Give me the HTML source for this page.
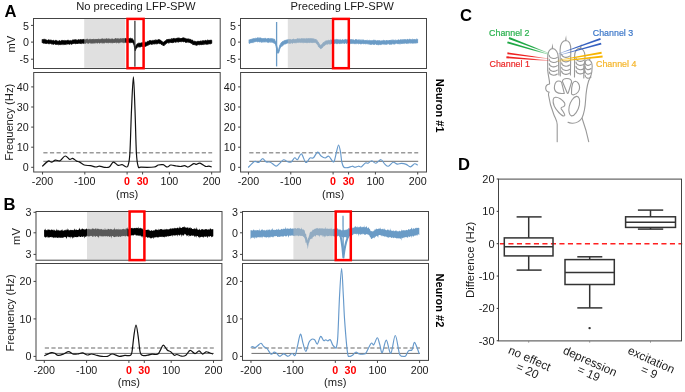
<!DOCTYPE html>
<html><head><meta charset="utf-8"><style>
html,body{margin:0;padding:0;background:#fff;overflow:hidden;width:685px;height:392px;}
svg{display:block;font-family:"Liberation Sans", sans-serif;will-change:transform;}
</style></head><body>
<svg width="685" height="392" viewBox="0 0 685 392">
<rect width="685" height="392" fill="#fff"/>
<text x="4.5" y="17" font-size="16.6" text-anchor="start" font-weight="bold" fill="#000">A</text>
<text x="135.9" y="10.2" font-size="11.2" text-anchor="middle" font-weight="normal" fill="#1a1a1a">No preceding LFP-SPW</text>
<text x="342.2" y="10.2" font-size="11.2" text-anchor="middle" font-weight="normal" fill="#1a1a1a">Preceding LFP-SPW</text>
<path d="M42.2,39.41 L42.7,39.75 L43.2,39.69 L43.7,39.3 L44.2,39.33 L44.7,39.4 L45.2,39.76 L45.7,39.54 L46.2,40.03 L46.7,40.03 L47.2,40.43 L47.7,40.37 L48.2,39.77 L48.7,39.96 L49.2,39.89 L49.7,40.35 L50.2,40.31 L50.7,39.91 L51.2,40.51 L51.7,40.21 L52.2,40.38 L52.7,40.72 L53.2,40.27 L53.7,40.56 L54.2,40.78 L54.7,41.05 L55.2,40.58 L55.7,40.38 L56.2,40.32 L56.7,41.01 L57.2,41.15 L57.7,41.02 L58.2,40.96 L58.7,41.23 L59.2,40.92 L59.7,40.53 L60.2,41.04 L60.7,41.18 L61.2,40.77 L61.7,40.42 L62.2,40.53 L62.7,40.42 L63.2,40.46 L63.7,40.68 L64.2,40.38 L64.7,40.79 L65.2,41.01 L65.7,40.51 L66.2,40.56 L66.7,41.08 L67.2,40.36 L67.7,40.39 L68.2,40.7 L68.7,40.15 L69.2,40.46 L69.7,40.97 L70.2,40.55 L70.7,40.66 L71.2,40.82 L71.7,40.77 L72.2,40.3 L72.7,40 L73.2,39.93 L73.7,40.02 L74.2,40.11 L74.7,39.76 L75.2,39.82 L75.7,39.72 L76.2,40.21 L76.7,39.85 L77.2,39.91 L77.7,40.31 L78.2,39.93 L78.7,39.56 L79.2,39.75 L79.7,40.15 L80.2,39.39 L80.7,39.81 L81.2,39.79 L81.7,39.74 L82.2,40.01 L82.7,39.43 L83.2,39.31 L83.7,39.6 L84.2,39.39 L84.7,39.82 L85.2,39.84 L85.7,39.8 L86.2,39.26 L86.7,39.37 L87.2,39.07 L87.7,39.26 L88.2,39.88 L88.7,39.86 L89.2,39.86 L89.7,39.19 L90.2,39.16 L90.7,39.54 L91.2,39.72 L91.7,39.54 L92.2,39.02 L92.7,39.76 L93.2,39.6 L93.7,39.08 L94.2,39.21 L94.7,39.77 L95.2,39.25 L95.7,39.53 L96.2,38.99 L96.7,39.68 L97.2,38.98 L97.7,39.73 L98.2,39.15 L98.7,38.94 L99.2,39.69 L99.7,39.28 L100.2,39.19 L100.7,39.53 L101.2,39 L101.7,38.98 L102.2,38.99 L102.7,38.87 L103.2,39.06 L103.7,39.26 L104.2,39.1 L104.7,39.16 L105.2,39.17 L105.7,39.09 L106.2,38.69 L106.7,38.83 L107.2,39.32 L107.7,38.95 L108.2,39.15 L108.7,38.73 L109.2,38.85 L109.7,39.31 L110.2,39.11 L110.7,39.42 L111.2,39.14 L111.7,39.04 L112.2,38.98 L112.7,38.99 L113.2,39.18 L113.7,39.39 L114.2,39.04 L114.7,39.28 L115.2,38.62 L115.7,38.57 L116.2,38.56 L116.7,39.19 L117.2,38.61 L117.7,39.06 L118.2,39.25 L118.7,38.64 L119.2,38.8 L119.7,39.32 L120.2,38.56 L120.7,38.87 L121.2,38.58 L121.7,39.04 L122.2,38.88 L122.7,38.39 L123.2,38.92 L123.7,38.41 L124.2,39.05 L124.7,38.43 L125.2,38.36 L125.7,38.56 L126.2,38.69 L126.7,39.04 L127.2,38.43 L127.7,38.81 L128.2,38.38 L128.7,38.92 L129.2,38.37 L129.7,38.87 L130.2,38.38 L130.7,38.36 L131.2,38.71 L131.7,38.8 L132.2,38.54 L132.7,39.36 L133.2,39.72 L133.7,40.4 L134.2,42.13 L134.7,45.16 L135.2,47.55 L135.7,46.34 L136.2,45.17 L136.7,44.75 L137.2,43.72 L137.7,43.86 L138.2,43.44 L138.7,43.15 L139.2,43.05 L139.7,43.32 L140.2,43.01 L140.7,43.34 L141.2,43.06 L141.7,42.75 L142.2,42.76 L142.7,42.93 L143.2,42.78 L143.7,43.48 L144.2,42.88 L144.7,42.7 L145.2,42.39 L145.7,42.29 L146.2,42.74 L146.7,41.9 L147.2,41.76 L147.7,41.3 L148.2,41.53 L148.7,41.1 L149.2,40.73 L149.7,40.62 L150.2,40.48 L150.7,40.64 L151.2,40.82 L151.7,40.9 L152.2,40.8 L152.7,40.43 L153.2,40.89 L153.7,40.59 L154.2,39.9 L154.7,40.59 L155.2,40.38 L155.7,39.77 L156.2,40.04 L156.7,40.29 L157.2,40.07 L157.7,40.13 L158.2,39.7 L158.7,39.58 L159.2,39.53 L159.7,39.92 L160.2,40.1 L160.7,40.33 L161.2,40.96 L161.7,41.04 L162.2,41.59 L162.7,42.16 L163.2,42.07 L163.7,42.36 L164.2,41.87 L164.7,41.14 L165.2,40.79 L165.7,40.75 L166.2,40.34 L166.7,39.59 L167.2,39.83 L167.7,39.56 L168.2,39.04 L168.7,39.52 L169.2,39.46 L169.7,39.25 L170.2,39.14 L170.7,39.46 L171.2,39.47 L171.7,38.54 L172.2,39.2 L172.7,38.8 L173.2,38.52 L173.7,38.46 L174.2,38.33 L174.7,39 L175.2,38.83 L175.7,38.86 L176.2,38.24 L176.7,38.44 L177.2,37.97 L177.7,38.34 L178.2,38.04 L178.7,38.16 L179.2,37.85 L179.7,38.58 L180.2,38.62 L180.7,38.57 L181.2,38.07 L181.7,38.6 L182.2,38 L182.7,37.89 L183.2,37.7 L183.7,37.91 L184.2,37.97 L184.7,38.3 L185.2,38.26 L185.7,38.81 L186.2,38.68 L186.7,39.05 L187.2,38.94 L187.7,39.04 L188.2,39.15 L188.7,38.82 L189.2,39.49 L189.7,39.17 L190.2,39.17 L190.7,40.03 L191.2,39.99 L191.7,40.15 L192.2,40.05 L192.7,40.34 L193.2,40.85 L193.7,41.47 L194.2,41.3 L194.7,41.32 L195.2,41.59 L195.7,41.45 L196.2,41.69 L196.7,41.8 L197.2,41.45 L197.7,41.37 L198.2,41.04 L198.7,41.8 L199.2,41.33 L199.7,41.61 L200.2,41.02 L200.7,41.06 L201.2,41.49 L201.7,41.35 L202.2,40.52 L202.7,41.23 L203.2,40.88 L203.7,40.63 L204.2,40.96 L204.7,41.02 L205.2,40.19 L205.7,40.54 L206.2,40.9 L206.7,40.61 L207.2,40.42 L207.7,40.02 L208.2,40.17 L208.7,40.52 L209.2,40.03 L209.7,40.47 L210.2,39.97 L210.7,40.32 L211.2,40.18 L211.7,40.35 L211.7,43.32 L211.2,43.53 L210.7,43.88 L210.2,43.44 L209.7,44.02 L209.2,43.64 L208.7,43.71 L208.2,44.29 L207.7,44.19 L207.2,44 L206.7,44.21 L206.2,44.2 L205.7,44.18 L205.2,43.73 L204.7,43.87 L204.2,44.48 L203.7,44.62 L203.2,43.85 L202.7,44.35 L202.2,44.63 L201.7,44.08 L201.2,44.9 L200.7,44.6 L200.2,44.5 L199.7,44.52 L199.2,44.95 L198.7,44.54 L198.2,44.73 L197.7,44.83 L197.2,45.05 L196.7,45 L196.2,45.48 L195.7,44.96 L195.2,44.86 L194.7,44.73 L194.2,44.53 L193.7,45.05 L193.2,44.1 L192.7,44.47 L192.2,43.55 L191.7,43.5 L191.2,43.17 L190.7,42.88 L190.2,43.07 L189.7,42.55 L189.2,42.27 L188.7,42.11 L188.2,42.55 L187.7,42.29 L187.2,41.84 L186.7,42.19 L186.2,42.43 L185.7,42.25 L185.2,42.29 L184.7,41.51 L184.2,41.48 L183.7,42 L183.2,41.86 L182.7,41.19 L182.2,41.56 L181.7,41.73 L181.2,41.58 L180.7,41.52 L180.2,41.93 L179.7,41.43 L179.2,42.03 L178.7,42.14 L178.2,41.72 L177.7,41.71 L177.2,41.91 L176.7,41.52 L176.2,42.34 L175.7,42.19 L175.2,42.05 L174.7,41.76 L174.2,42.18 L173.7,42.29 L173.2,42.68 L172.7,42.14 L172.2,42.83 L171.7,42.44 L171.2,42.94 L170.7,42.34 L170.2,42.33 L169.7,42.71 L169.2,42.62 L168.7,43.04 L168.2,42.73 L167.7,42.56 L167.2,42.93 L166.7,43.19 L166.2,43.33 L165.7,44.12 L165.2,44.48 L164.7,44.54 L164.2,45.58 L163.7,45.38 L163.2,45.74 L162.7,45.23 L162.2,44.56 L161.7,44.57 L161.2,44.41 L160.7,43.39 L160.2,43.65 L159.7,43.48 L159.2,43.69 L158.7,43.29 L158.2,43.02 L157.7,43.64 L157.2,43.84 L156.7,43.81 L156.2,43.84 L155.7,43.61 L155.2,43.95 L154.7,43.85 L154.2,44.11 L153.7,44.01 L153.2,43.64 L152.7,43.87 L152.2,44.44 L151.7,44.32 L151.2,44.27 L150.7,44.08 L150.2,43.96 L149.7,44.4 L149.2,44.47 L148.7,44.87 L148.2,45.06 L147.7,45.14 L147.2,45.31 L146.7,46.04 L146.2,45.86 L145.7,46.42 L145.2,46.15 L144.7,46.35 L144.2,46.34 L143.7,46.8 L143.2,46.96 L142.7,46.35 L142.2,46.87 L141.7,46.32 L141.2,46.51 L140.7,46.77 L140.2,46.95 L139.7,47.08 L139.2,46.66 L138.7,46.95 L138.2,46.59 L137.7,46.62 L137.2,47.48 L136.7,48.08 L136.2,48.46 L135.7,49.54 L135.2,50.76 L134.7,48.24 L134.2,45.62 L133.7,44.04 L133.2,43.27 L132.7,42.6 L132.2,41.92 L131.7,42.63 L131.2,42.11 L130.7,42.58 L130.2,42.57 L129.7,42.52 L129.2,42.64 L128.7,42.18 L128.2,41.85 L127.7,42.43 L127.2,42.63 L126.7,42.03 L126.2,42.63 L125.7,41.93 L125.2,42.53 L124.7,42.07 L124.2,42.72 L123.7,42.74 L123.2,42.32 L122.7,42.17 L122.2,42.28 L121.7,41.91 L121.2,42.19 L120.7,42.21 L120.2,42.31 L119.7,42.68 L119.2,42.38 L118.7,42.8 L118.2,42.83 L117.7,42.09 L117.2,42.62 L116.7,42.79 L116.2,42.6 L115.7,42.22 L115.2,42.41 L114.7,42.15 L114.2,42.88 L113.7,42.28 L113.2,42.84 L112.7,42.91 L112.2,42.55 L111.7,42.7 L111.2,42.54 L110.7,42.5 L110.2,42.79 L109.7,42.57 L109.2,42.38 L108.7,42.64 L108.2,42.85 L107.7,42.62 L107.2,42.66 L106.7,42.6 L106.2,42.9 L105.7,42.36 L105.2,42.22 L104.7,42.69 L104.2,43.05 L103.7,43.04 L103.2,42.65 L102.7,43.07 L102.2,42.64 L101.7,42.8 L101.2,42.54 L100.7,42.48 L100.2,43.08 L99.7,43.15 L99.2,42.9 L98.7,42.34 L98.2,42.83 L97.7,42.93 L97.2,43.1 L96.7,43.09 L96.2,42.51 L95.7,42.53 L95.2,43.24 L94.7,42.76 L94.2,43.13 L93.7,43.13 L93.2,42.86 L92.7,43.14 L92.2,43.04 L91.7,43.18 L91.2,42.9 L90.7,43.28 L90.2,42.67 L89.7,42.7 L89.2,42.83 L88.7,43.4 L88.2,42.92 L87.7,43.15 L87.2,42.79 L86.7,42.58 L86.2,43.02 L85.7,43.23 L85.2,43.3 L84.7,43.47 L84.2,42.8 L83.7,43.32 L83.2,43.35 L82.7,43.02 L82.2,43.36 L81.7,43.64 L81.2,42.82 L80.7,42.97 L80.2,43.73 L79.7,43.05 L79.2,43.18 L78.7,43.07 L78.2,43.45 L77.7,43.94 L77.2,43.2 L76.7,43.43 L76.2,43.29 L75.7,43.98 L75.2,43.56 L74.7,43.4 L74.2,43.35 L73.7,43.48 L73.2,43.43 L72.7,43.98 L72.2,43.8 L71.7,44.2 L71.2,44.22 L70.7,43.6 L70.2,44.14 L69.7,44.23 L69.2,44.14 L68.7,44.02 L68.2,43.9 L67.7,44.12 L67.2,43.91 L66.7,43.86 L66.2,44.53 L65.7,44.13 L65.2,44.55 L64.7,44.59 L64.2,44.22 L63.7,44.61 L63.2,44.07 L62.7,44.56 L62.2,43.99 L61.7,44.32 L61.2,44.52 L60.7,44.19 L60.2,44.85 L59.7,44.61 L59.2,44.59 L58.7,44.83 L58.2,44.35 L57.7,44.43 L57.2,44.14 L56.7,44.34 L56.2,44.38 L55.7,44.18 L55.2,44.39 L54.7,43.77 L54.2,43.89 L53.7,44.38 L53.2,44.07 L52.7,44.14 L52.2,43.74 L51.7,43.96 L51.2,43.78 L50.7,43.54 L50.2,43.37 L49.7,43.61 L49.2,43.75 L48.7,43.92 L48.2,43.25 L47.7,43.36 L47.2,43.1 L46.7,43.37 L46.2,43.82 L45.7,43.12 L45.2,43.62 L44.7,42.92 L44.2,43.18 L43.7,43.21 L43.2,43.03 L42.7,42.73 L42.2,42.75Z" fill="#000" stroke="#000" stroke-width="0.9" stroke-linejoin="round"/><line x1="134.9" y1="20.7" x2="134.9" y2="66.8" stroke="#3a3a3a" stroke-width="1.3"/><rect x="84.2" y="18.7" width="41.1" height="49.1" fill="rgb(189,189,189)" fill-opacity="0.47"/><rect x="33.5" y="18.5" width="186.7" height="50" fill="none" stroke="#444" stroke-width="1"/><line x1="31" y1="25.4" x2="33.5" y2="25.4" stroke="#444" stroke-width="1"/><text x="29" y="29.6" font-size="10.7" text-anchor="end" font-weight="normal" fill="#1a1a1a">5</text><line x1="31" y1="42.1" x2="33.5" y2="42.1" stroke="#444" stroke-width="1"/><text x="29" y="46.3" font-size="10.7" text-anchor="end" font-weight="normal" fill="#1a1a1a">0</text><line x1="31" y1="59.2" x2="33.5" y2="59.2" stroke="#444" stroke-width="1"/><text x="29" y="63.4" font-size="10.7" text-anchor="end" font-weight="normal" fill="#1a1a1a">-5</text><rect x="127.5" y="18.9" width="16.1" height="49.3" fill="none" stroke="#ff0000" stroke-width="2.5"/><line x1="43.34" y1="152.8" x2="212.16" y2="152.8" stroke="#9a9a9a" stroke-width="1.5" stroke-dasharray="4.2,2.4"/><line x1="43.34" y1="161.3" x2="212.16" y2="161.3" stroke="#6e6e6e" stroke-width="1"/><path d="M42.2,166.4 C43.2,165.52 46.63,161.8 48.2,161.1 C49.77,160.4 50.38,162.37 51.6,162.2 C52.82,162.03 54.1,160.33 55.5,160.1 C56.9,159.87 58.38,161.48 60,160.8 C61.62,160.12 63.58,156.23 65.2,156 C66.82,155.77 68.45,159.02 69.7,159.4 C70.95,159.78 71.55,158.02 72.7,158.3 C73.85,158.58 75.48,160.5 76.6,161.1 C77.72,161.7 78.13,161.25 79.4,161.9 C80.67,162.55 82.35,164.37 84.2,165 C86.05,165.63 88.53,165.37 90.5,165.7 C92.47,166.03 94.5,166.93 96,167 C97.5,167.07 98.12,166.05 99.5,166.1 C100.88,166.15 102.68,167.15 104.3,167.3 C105.92,167.45 107.68,167.85 109.2,167 C110.72,166.15 111.9,162.47 113.4,162.2 C114.9,161.93 116.75,164.98 118.2,165.4 C119.65,165.82 120.72,164.43 122.1,164.7 C123.48,164.97 125.48,166.95 126.5,167 C127.52,167.05 127.63,167.33 128.2,165 C128.77,162.67 129.35,162.17 129.9,153 C130.45,143.83 130.92,122.7 131.5,110 C132.08,97.3 132.82,76.8 133.4,76.8 C133.98,76.8 134.5,97.3 135,110 C135.5,122.7 135.87,143.58 136.4,153 C136.93,162.42 137.43,164.13 138.2,166.5 C138.97,168.87 138.35,167.12 141,167.2 C143.65,167.28 151.22,167.37 154.1,167 C156.98,166.63 156.8,165.38 158.3,165 C159.8,164.62 161.6,164.37 163.1,164.7 C164.6,165.03 166.02,166.95 167.3,167 C168.58,167.05 169.3,165.17 170.8,165 C172.3,164.83 174.68,165.75 176.3,166 C177.92,166.25 179.12,166.55 180.5,166.5 C181.88,166.45 183.33,165.62 184.6,165.7 C185.87,165.78 186.58,167.35 188.1,167 C189.62,166.65 192.32,164.03 193.7,163.6 C195.08,163.17 195.37,164.47 196.4,164.4 C197.43,164.33 198.4,162.87 199.9,163.2 C201.4,163.53 203.9,165.92 205.4,166.4 C206.9,166.88 207.85,166 208.9,166.1 C209.95,166.2 211.23,166.85 211.7,167" fill="none" stroke="#111" stroke-width="1.2" stroke-linejoin="round"/><rect x="33.7" y="72.5" width="186.5" height="99.5" fill="none" stroke="#444" stroke-width="1"/><line x1="31.2" y1="167.3" x2="33.7" y2="167.3" stroke="#444" stroke-width="1"/><text x="28.7" y="171" font-size="10.7" text-anchor="end" font-weight="normal" fill="#1a1a1a">0</text><line x1="31.2" y1="147.2" x2="33.7" y2="147.2" stroke="#444" stroke-width="1"/><text x="28.7" y="150.9" font-size="10.7" text-anchor="end" font-weight="normal" fill="#1a1a1a">10</text><line x1="31.2" y1="127.1" x2="33.7" y2="127.1" stroke="#444" stroke-width="1"/><text x="28.7" y="130.8" font-size="10.7" text-anchor="end" font-weight="normal" fill="#1a1a1a">20</text><line x1="31.2" y1="107" x2="33.7" y2="107" stroke="#444" stroke-width="1"/><text x="28.7" y="110.7" font-size="10.7" text-anchor="end" font-weight="normal" fill="#1a1a1a">30</text><line x1="31.2" y1="86.9" x2="33.7" y2="86.9" stroke="#444" stroke-width="1"/><text x="28.7" y="90.6" font-size="10.7" text-anchor="end" font-weight="normal" fill="#1a1a1a">40</text><line x1="42.54" y1="172" x2="42.54" y2="174.5" stroke="#444" stroke-width="1"/><text x="42.54" y="184.7" font-size="10.7" text-anchor="middle" font-weight="normal" fill="#1a1a1a">-200</text><line x1="84.82" y1="172" x2="84.82" y2="174.5" stroke="#444" stroke-width="1"/><text x="84.82" y="184.7" font-size="10.7" text-anchor="middle" font-weight="normal" fill="#1a1a1a">-100</text><line x1="127.1" y1="172" x2="127.1" y2="174.5" stroke="#444" stroke-width="1"/><text x="127.1" y="184.7" font-size="10.7" text-anchor="middle" font-weight="bold" fill="#ff0000">0</text><line x1="142.6" y1="172" x2="142.6" y2="174.5" stroke="#444" stroke-width="1"/><text x="142.6" y="184.7" font-size="10.7" text-anchor="middle" font-weight="bold" fill="#ff0000">30</text><line x1="169.38" y1="172" x2="169.38" y2="174.5" stroke="#444" stroke-width="1"/><text x="169.38" y="184.7" font-size="10.7" text-anchor="middle" font-weight="normal" fill="#1a1a1a">100</text><line x1="211.66" y1="172" x2="211.66" y2="174.5" stroke="#444" stroke-width="1"/><text x="211.66" y="184.7" font-size="10.7" text-anchor="middle" font-weight="normal" fill="#1a1a1a">200</text><text x="127.1" y="198" font-size="11.2" text-anchor="middle" font-weight="normal" fill="#1a1a1a">(ms)</text>
<path d="M249.1,39.65 L249.6,40.12 L250.1,39.93 L250.6,39.22 L251.1,39.75 L251.6,39.04 L252.1,39.09 L252.6,38.9 L253.1,39 L253.6,38.49 L254.1,38.46 L254.6,38.65 L255.1,38.63 L255.6,38.25 L256.1,38.55 L256.6,38.35 L257.1,37.84 L257.6,37.94 L258.1,38.15 L258.6,37.93 L259.1,38.36 L259.6,37.92 L260.1,38.01 L260.6,37.97 L261.1,37.93 L261.6,38.71 L262.1,38.59 L262.6,38.8 L263.1,38.16 L263.6,38.69 L264.1,38.65 L264.6,38.41 L265.1,38.26 L265.6,38.37 L266.1,38.99 L266.6,39.01 L267.1,38.48 L267.6,38.91 L268.1,38.23 L268.6,38.53 L269.1,38.38 L269.6,39.03 L270.1,38.61 L270.6,38.94 L271.1,38.29 L271.6,39.1 L272.1,38.96 L272.6,38.65 L273.1,39.4 L273.6,38.98 L274.1,39.22 L274.6,39.27 L275.1,40.94 L275.6,41.81 L276.1,42.71 L276.6,45.36 L277.1,47.12 L277.6,49.61 L278.1,50.5 L278.6,49.48 L279.1,48.12 L279.6,46.21 L280.1,44.45 L280.6,44.16 L281.1,42.94 L281.6,42.35 L282.1,41.8 L282.6,41.7 L283.1,41.84 L283.6,40.93 L284.1,40.45 L284.6,40.82 L285.1,40.21 L285.6,40.37 L286.1,40.3 L286.6,40.04 L287.1,40.05 L287.6,39.77 L288.1,39.9 L288.6,39.42 L289.1,39.31 L289.6,39.66 L290.1,39.47 L290.6,39.54 L291.1,39.78 L291.6,39.91 L292.1,39.41 L292.6,39.71 L293.1,38.96 L293.6,39 L294.1,39.74 L294.6,39.67 L295.1,39.58 L295.6,39 L296.1,39.59 L296.6,39.25 L297.1,38.87 L297.6,38.77 L298.1,38.85 L298.6,39.17 L299.1,38.57 L299.6,39.14 L300.1,38.78 L300.6,39.21 L301.1,38.55 L301.6,38.84 L302.1,39.06 L302.6,38.63 L303.1,38.85 L303.6,38.75 L304.1,38.75 L304.6,38.79 L305.1,39.24 L305.6,38.79 L306.1,39.11 L306.6,38.46 L307.1,38.83 L307.6,38.81 L308.1,38.86 L308.6,38.46 L309.1,39.02 L309.6,38.52 L310.1,38.77 L310.6,38.56 L311.1,38.89 L311.6,38.52 L312.1,39.14 L312.6,38.59 L313.1,39.26 L313.6,38.84 L314.1,39.24 L314.6,39.22 L315.1,39.3 L315.6,39.53 L316.1,39.45 L316.6,40.2 L317.1,40.42 L317.6,41.45 L318.1,41.87 L318.6,43.21 L319.1,43.4 L319.6,44.74 L320.1,45.12 L320.6,45.22 L321.1,45.14 L321.6,44.58 L322.1,44.17 L322.6,43.62 L323.1,42.67 L323.6,42.57 L324.1,42.47 L324.6,41.84 L325.1,41.51 L325.6,40.88 L326.1,40.69 L326.6,40.91 L327.1,40.86 L327.6,40.79 L328.1,40.45 L328.6,40.36 L329.1,40.69 L329.6,40.53 L330.1,40.34 L330.6,39.78 L331.1,39.98 L331.6,40.28 L332.1,40.11 L332.6,39.45 L333.1,40.07 L333.6,40.19 L334.1,40.12 L334.6,39.83 L335.1,39.56 L335.6,39.83 L336.1,39.4 L336.6,39.51 L337.1,39.97 L337.6,39.51 L338.1,39.46 L338.6,39.92 L339.1,40.13 L339.6,39.86 L340.1,39.43 L340.6,39.9 L341.1,40.05 L341.6,40.22 L342.1,39.65 L342.6,39.72 L343.1,39.98 L343.6,40.05 L344.1,39.88 L344.6,39.83 L345.1,39.58 L345.6,39.35 L346.1,39.88 L346.6,39.8 L347.1,39.47 L347.6,39.95 L348.1,39.38 L348.6,39.49 L349.1,39.6 L349.6,39.95 L350.1,39.99 L350.6,39.56 L351.1,39.67 L351.6,39.55 L352.1,40.26 L352.6,39.85 L353.1,39.51 L353.6,40.02 L354.1,40.11 L354.6,40.38 L355.1,39.78 L355.6,39.6 L356.1,39.94 L356.6,39.64 L357.1,39.61 L357.6,40.46 L358.1,39.81 L358.6,40.1 L359.1,40.38 L359.6,39.94 L360.1,39.72 L360.6,40.39 L361.1,39.71 L361.6,40.39 L362.1,40.4 L362.6,39.94 L363.1,39.96 L363.6,40.07 L364.1,40.4 L364.6,40.43 L365.1,40.3 L365.6,40.54 L366.1,40.09 L366.6,40.74 L367.1,40.69 L367.6,40.16 L368.1,40.61 L368.6,40.64 L369.1,40.78 L369.6,40.23 L370.1,40.61 L370.6,40.66 L371.1,40.51 L371.6,40.74 L372.1,40.52 L372.6,40.67 L373.1,40.37 L373.6,40.27 L374.1,40.35 L374.6,40.34 L375.1,40.58 L375.6,40.32 L376.1,40.94 L376.6,40.97 L377.1,40.42 L377.6,40.72 L378.1,41.15 L378.6,40.49 L379.1,41.28 L379.6,40.58 L380.1,40.6 L380.6,41.23 L381.1,41.02 L381.6,40.99 L382.1,40.49 L382.6,41.06 L383.1,40.64 L383.6,40.35 L384.1,40.56 L384.6,40.62 L385.1,41.13 L385.6,41 L386.1,40.24 L386.6,40.58 L387.1,40.48 L387.6,40.63 L388.1,40.9 L388.6,40.84 L389.1,40.08 L389.6,40.74 L390.1,40.03 L390.6,40.45 L391.1,40.15 L391.6,40.27 L392.1,40.17 L392.6,40.17 L393.1,40.52 L393.6,39.96 L394.1,39.91 L394.6,40.45 L395.1,40.36 L395.6,40.13 L396.1,40.55 L396.6,40.53 L397.1,39.89 L397.6,40.5 L398.1,40 L398.6,39.85 L399.1,40.1 L399.6,40.27 L400.1,39.89 L400.6,39.69 L401.1,40.13 L401.6,39.66 L402.1,40.18 L402.6,39.58 L403.1,40.24 L403.6,39.59 L404.1,40.03 L404.6,39.51 L405.1,39.58 L405.6,39.8 L406.1,39.6 L406.6,40.16 L407.1,39.36 L407.6,39.33 L408.1,40.11 L408.6,39.86 L409.1,39.35 L409.6,39.25 L410.1,39.48 L410.6,39.47 L411.1,39.71 L411.6,39.63 L412.1,39.17 L412.6,39.39 L413.1,39.82 L413.6,39.49 L414.1,39.33 L414.6,39.58 L415.1,39.61 L415.6,39.66 L416.1,39.44 L416.6,39.13 L417.1,38.91 L417.6,39.5 L417.6,42.94 L417.1,42.7 L416.6,42.91 L416.1,42.77 L415.6,43 L415.1,43.04 L414.6,43.22 L414.1,42.66 L413.6,43.15 L413.1,42.89 L412.6,43.19 L412.1,43.09 L411.6,42.98 L411.1,43.04 L410.6,43.32 L410.1,42.66 L409.6,42.84 L409.1,43.25 L408.6,43.09 L408.1,43.44 L407.6,43.09 L407.1,43.63 L406.6,43.44 L406.1,42.98 L405.6,42.98 L405.1,43.15 L404.6,43.02 L404.1,43.66 L403.6,43.19 L403.1,43.16 L402.6,43.38 L402.1,43.51 L401.6,43.4 L401.1,43.7 L400.6,43.81 L400.1,43.37 L399.6,43.68 L399.1,43.8 L398.6,43.56 L398.1,43.96 L397.6,43.64 L397.1,43.44 L396.6,43.25 L396.1,43.33 L395.6,43.63 L395.1,43.62 L394.6,44.03 L394.1,44.05 L393.6,43.94 L393.1,43.84 L392.6,43.61 L392.1,44.28 L391.6,44.21 L391.1,43.93 L390.6,44.22 L390.1,43.97 L389.6,44.43 L389.1,43.76 L388.6,43.75 L388.1,43.7 L387.6,43.84 L387.1,44.3 L386.6,44.39 L386.1,44.09 L385.6,44.3 L385.1,44.22 L384.6,44.07 L384.1,44.45 L383.6,44.06 L383.1,44.24 L382.6,44.06 L382.1,43.99 L381.6,44.18 L381.1,44.69 L380.6,44.7 L380.1,44.03 L379.6,44.17 L379.1,44.81 L378.6,44.72 L378.1,44.71 L377.6,44.62 L377.1,44.4 L376.6,44.5 L376.1,44.39 L375.6,43.83 L375.1,43.9 L374.6,44.58 L374.1,43.75 L373.6,44.52 L373.1,44.24 L372.6,43.93 L372.1,44.28 L371.6,44.38 L371.1,44.34 L370.6,44.44 L370.1,44.16 L369.6,44.33 L369.1,43.79 L368.6,43.76 L368.1,44.29 L367.6,43.63 L367.1,43.41 L366.6,43.57 L366.1,43.93 L365.6,43.8 L365.1,43.7 L364.6,43.53 L364.1,44.04 L363.6,43.94 L363.1,43.29 L362.6,43.33 L362.1,43.63 L361.6,43.63 L361.1,43.96 L360.6,43.83 L360.1,43.98 L359.6,43.44 L359.1,43.31 L358.6,43.72 L358.1,43.67 L357.6,43.24 L357.1,43.6 L356.6,43.79 L356.1,43.29 L355.6,43.54 L355.1,43.87 L354.6,43.7 L354.1,43.43 L353.6,43.33 L353.1,43.58 L352.6,43.23 L352.1,43.68 L351.6,43.54 L351.1,43.09 L350.6,43.78 L350.1,43.35 L349.6,43.1 L349.1,43.43 L348.6,43.21 L348.1,43.2 L347.6,42.89 L347.1,43.06 L346.6,43.65 L346.1,43.22 L345.6,42.95 L345.1,42.8 L344.6,43.4 L344.1,43.69 L343.6,43.04 L343.1,42.86 L342.6,42.98 L342.1,43.51 L341.6,43.35 L341.1,43.07 L340.6,43.19 L340.1,43.73 L339.6,43.64 L339.1,43.35 L338.6,43.17 L338.1,43.33 L337.6,43.56 L337.1,43.67 L336.6,43.71 L336.1,43.03 L335.6,43.16 L335.1,43.11 L334.6,43.71 L334.1,43.01 L333.6,43.14 L333.1,43.03 L332.6,43.21 L332.1,43.74 L331.6,43.11 L331.1,43.9 L330.6,43.99 L330.1,43.92 L329.6,44.16 L329.1,43.46 L328.6,43.75 L328.1,43.53 L327.6,44.33 L327.1,43.86 L326.6,43.98 L326.1,44.51 L325.6,44.66 L325.1,44.68 L324.6,45.09 L324.1,45.98 L323.6,45.84 L323.1,46.71 L322.6,47.11 L322.1,47.88 L321.6,48.22 L321.1,48.35 L320.6,48.67 L320.1,47.98 L319.6,47.6 L319.1,47.37 L318.6,46.87 L318.1,45.48 L317.6,44.83 L317.1,44.08 L316.6,43.12 L316.1,43.35 L315.6,42.52 L315.1,42.2 L314.6,42.46 L314.1,42.25 L313.6,41.96 L313.1,42.79 L312.6,42.03 L312.1,42.79 L311.6,42.36 L311.1,42.76 L310.6,42.18 L310.1,42.39 L309.6,42.5 L309.1,42.76 L308.6,42.44 L308.1,42.09 L307.6,42.74 L307.1,42.69 L306.6,42.77 L306.1,42.14 L305.6,42.14 L305.1,42.86 L304.6,42.34 L304.1,42.48 L303.6,42.83 L303.1,42.23 L302.6,42.61 L302.1,42.07 L301.6,42.48 L301.1,42.08 L300.6,42.49 L300.1,42.18 L299.6,42.19 L299.1,42.35 L298.6,42.27 L298.1,42.66 L297.6,42.33 L297.1,42.51 L296.6,42.77 L296.1,42.34 L295.6,42.97 L295.1,42.71 L294.6,42.67 L294.1,42.89 L293.6,42.56 L293.1,42.69 L292.6,43.28 L292.1,43.22 L291.6,42.61 L291.1,43.14 L290.6,42.79 L290.1,43.5 L289.6,42.93 L289.1,43.47 L288.6,42.92 L288.1,42.91 L287.6,43.1 L287.1,43.06 L286.6,43.06 L286.1,43.89 L285.6,43.92 L285.1,43.87 L284.6,44.08 L284.1,44.31 L283.6,44.26 L283.1,45.44 L282.6,45.79 L282.1,45.77 L281.6,45.69 L281.1,46.94 L280.6,47.03 L280.1,47.99 L279.6,49.46 L279.1,51.57 L278.6,52.92 L278.1,53.32 L277.6,53.16 L277.1,50.5 L276.6,48.86 L276.1,46.43 L275.6,44.48 L275.1,44.19 L274.6,43.45 L274.1,42.69 L273.6,42.88 L273.1,42.6 L272.6,42.09 L272.1,42.6 L271.6,42.01 L271.1,41.82 L270.6,41.79 L270.1,42.47 L269.6,41.75 L269.1,42.04 L268.6,42.52 L268.1,42.11 L267.6,42.06 L267.1,42.4 L266.6,41.83 L266.1,41.74 L265.6,41.93 L265.1,41.61 L264.6,41.88 L264.1,41.89 L263.6,41.55 L263.1,42.33 L262.6,41.76 L262.1,42.33 L261.6,42.2 L261.1,41.73 L260.6,41.39 L260.1,42.19 L259.6,41.64 L259.1,42.11 L258.6,41.6 L258.1,41.37 L257.6,42.03 L257.1,41.83 L256.6,41.32 L256.1,41.45 L255.6,41.48 L255.1,42.08 L254.6,41.72 L254.1,42.04 L253.6,41.81 L253.1,42.74 L252.6,42.26 L252.1,42.75 L251.6,42.29 L251.1,43.02 L250.6,42.73 L250.1,43.06 L249.6,43.33 L249.1,43.29Z" fill="#6a9bc6" stroke="#6a9bc6" stroke-width="0.9" stroke-linejoin="round"/><line x1="276.6" y1="22" x2="276.6" y2="66.4" stroke="#6a9bc6" stroke-width="1.3"/><rect x="287.8" y="18.7" width="43.5" height="49.1" fill="rgb(189,189,189)" fill-opacity="0.47"/><rect x="240.5" y="18.5" width="186" height="50" fill="none" stroke="#444" stroke-width="1"/><line x1="238" y1="25.4" x2="240.5" y2="25.4" stroke="#444" stroke-width="1"/><text x="236" y="29.6" font-size="10.7" text-anchor="end" font-weight="normal" fill="#1a1a1a">5</text><line x1="238" y1="42.1" x2="240.5" y2="42.1" stroke="#444" stroke-width="1"/><text x="236" y="46.3" font-size="10.7" text-anchor="end" font-weight="normal" fill="#1a1a1a">0</text><line x1="238" y1="59.2" x2="240.5" y2="59.2" stroke="#444" stroke-width="1"/><text x="236" y="63.4" font-size="10.7" text-anchor="end" font-weight="normal" fill="#1a1a1a">-5</text><rect x="333" y="18.9" width="15.8" height="49.3" fill="none" stroke="#ff0000" stroke-width="2.5"/><line x1="249.28" y1="152.8" x2="418.22" y2="152.8" stroke="#9a9a9a" stroke-width="1.5" stroke-dasharray="4.2,2.4"/><line x1="249.28" y1="161.3" x2="418.22" y2="161.3" stroke="#6e6e6e" stroke-width="1"/><path d="M248.2,167.5 C249.25,166.5 252.77,162.33 254.5,161.5 C256.23,160.67 257.27,162.97 258.6,162.5 C259.93,162.03 261.22,158.8 262.5,158.7 C263.78,158.6 264.98,161.32 266.3,161.9 C267.62,162.48 268.78,161.5 270.4,162.2 C272.02,162.9 274.5,165.87 276,166.1 C277.5,166.33 278.13,164.65 279.4,163.6 C280.67,162.55 282.2,160.1 283.6,159.8 C285,159.5 286.53,161.45 287.8,161.8 C289.07,162.15 290.05,162.57 291.2,161.9 C292.35,161.23 293.65,158.17 294.7,157.8 C295.75,157.43 296.38,160.35 297.5,159.7 C298.62,159.05 300.02,153.43 301.4,153.9 C302.78,154.37 304.37,161.82 305.8,162.5 C307.23,163.18 308.73,158.78 310,158 C311.27,157.22 312.13,158.78 313.4,157.8 C314.67,156.82 316.32,152.4 317.6,152.1 C318.88,151.8 319.83,155.02 321.1,156 C322.37,156.98 323.93,157.97 325.2,158 C326.47,158.03 327.43,155.62 328.7,156.2 C329.97,156.78 331.85,160.75 332.8,161.5 C333.75,162.25 333.78,162.28 334.4,160.7 C335.02,159.12 335.8,154.62 336.5,152 C337.2,149.38 337.93,145 338.6,145 C339.27,145 339.97,149.17 340.5,152 C341.03,154.83 341.23,159.47 341.8,162 C342.37,164.53 342.87,166.27 343.9,167.2 C344.93,168.13 346.62,167.77 348,167.6 C349.38,167.43 351.03,166.27 352.2,166.2 C353.37,166.13 353.97,167.2 355,167.2 C356.03,167.2 357.37,166.25 358.4,166.2 C359.43,166.15 360.03,167.43 361.2,166.9 C362.37,166.37 364.25,163.62 365.4,163 C366.55,162.38 367.07,163.58 368.1,163.2 C369.13,162.82 370.32,160.7 371.6,160.7 C372.88,160.7 374.23,163.37 375.8,163.2 C377.37,163.03 379.5,159.55 381,159.7 C382.5,159.85 383.58,163.02 384.8,164.1 C386.02,165.18 386.92,166.5 388.3,166.2 C389.68,165.9 391.6,162.65 393.1,162.3 C394.6,161.95 395.92,163.92 397.3,164.1 C398.68,164.28 399.9,163.35 401.4,163.4 C402.9,163.45 404.8,163.82 406.3,164.4 C407.8,164.98 409.02,167 410.4,166.9 C411.78,166.8 413.38,164.08 414.6,163.8 C415.82,163.52 417.18,164.97 417.7,165.2" fill="none" stroke="#6699cb" stroke-width="1.15" stroke-linejoin="round"/><rect x="240.6" y="72.5" width="185.9" height="99.5" fill="none" stroke="#444" stroke-width="1"/><line x1="238.1" y1="167.3" x2="240.6" y2="167.3" stroke="#444" stroke-width="1"/><text x="235.6" y="171" font-size="10.7" text-anchor="end" font-weight="normal" fill="#1a1a1a">0</text><line x1="238.1" y1="147.2" x2="240.6" y2="147.2" stroke="#444" stroke-width="1"/><text x="235.6" y="150.9" font-size="10.7" text-anchor="end" font-weight="normal" fill="#1a1a1a">10</text><line x1="238.1" y1="127.1" x2="240.6" y2="127.1" stroke="#444" stroke-width="1"/><text x="235.6" y="130.8" font-size="10.7" text-anchor="end" font-weight="normal" fill="#1a1a1a">20</text><line x1="238.1" y1="107" x2="240.6" y2="107" stroke="#444" stroke-width="1"/><text x="235.6" y="110.7" font-size="10.7" text-anchor="end" font-weight="normal" fill="#1a1a1a">30</text><line x1="238.1" y1="86.9" x2="240.6" y2="86.9" stroke="#444" stroke-width="1"/><text x="235.6" y="90.6" font-size="10.7" text-anchor="end" font-weight="normal" fill="#1a1a1a">40</text><line x1="248.48" y1="172" x2="248.48" y2="174.5" stroke="#444" stroke-width="1"/><text x="248.48" y="184.7" font-size="10.7" text-anchor="middle" font-weight="normal" fill="#1a1a1a">-200</text><line x1="290.79" y1="172" x2="290.79" y2="174.5" stroke="#444" stroke-width="1"/><text x="290.79" y="184.7" font-size="10.7" text-anchor="middle" font-weight="normal" fill="#1a1a1a">-100</text><line x1="333.1" y1="172" x2="333.1" y2="174.5" stroke="#444" stroke-width="1"/><text x="333.1" y="184.7" font-size="10.7" text-anchor="middle" font-weight="bold" fill="#ff0000">0</text><line x1="348.6" y1="172" x2="348.6" y2="174.5" stroke="#444" stroke-width="1"/><text x="348.6" y="184.7" font-size="10.7" text-anchor="middle" font-weight="bold" fill="#ff0000">30</text><line x1="375.41" y1="172" x2="375.41" y2="174.5" stroke="#444" stroke-width="1"/><text x="375.41" y="184.7" font-size="10.7" text-anchor="middle" font-weight="normal" fill="#1a1a1a">100</text><line x1="417.72" y1="172" x2="417.72" y2="174.5" stroke="#444" stroke-width="1"/><text x="417.72" y="184.7" font-size="10.7" text-anchor="middle" font-weight="normal" fill="#1a1a1a">200</text><text x="333.1" y="198" font-size="11.2" text-anchor="middle" font-weight="normal" fill="#1a1a1a">(ms)</text>
<text x="0" y="0" font-size="11" text-anchor="middle" font-weight="bold" fill="#000" transform="translate(436.3,105.6) rotate(90)">Neuron #1</text>
<text x="0" y="0" font-size="11.2" text-anchor="middle" font-weight="normal" fill="#1a1a1a" transform="translate(12.9,122.3) rotate(-90)">Frequency (Hz)</text>
<text x="0" y="0" font-size="11.2" text-anchor="middle" font-weight="normal" fill="#1a1a1a" transform="translate(14.9,44.1) rotate(-90)">mV</text>
<text x="3.4" y="210.1" font-size="16.6" text-anchor="start" font-weight="bold" fill="#000">B</text>
<path d="M44.1,229.88 L44.5,229.89 L44.9,229.29 L45.3,228.42 L45.7,230.16 L46.1,229.89 L46.5,230 L46.9,230.45 L47.3,230.21 L47.7,229.24 L48.1,229.76 L48.5,229.51 L48.9,229.52 L49.3,229.41 L49.7,229.9 L50.1,229.76 L50.5,229.94 L50.9,230.47 L51.3,229.84 L51.7,229.34 L52.1,229.77 L52.5,230.29 L52.9,229.47 L53.3,229.6 L53.7,230.76 L54.1,229.64 L54.5,229.67 L54.9,230.72 L55.3,230.74 L55.7,230.48 L56.1,230.76 L56.5,228.54 L56.9,230.25 L57.3,229.59 L57.7,230.53 L58.1,230.96 L58.5,229.67 L58.9,230.11 L59.3,230.93 L59.7,230.16 L60.1,230.43 L60.5,230.27 L60.9,230.82 L61.3,230.35 L61.7,230.08 L62.1,228.91 L62.5,230.35 L62.9,230.85 L63.3,230.82 L63.7,230.5 L64.1,230.44 L64.5,229.74 L64.9,230.39 L65.3,230.24 L65.7,229.88 L66.1,228.81 L66.5,230.2 L66.9,230.21 L67.3,229.94 L67.7,228.03 L68.1,230.67 L68.5,229.33 L68.9,229.55 L69.3,230.46 L69.7,230.24 L70.1,230.06 L70.5,230.35 L70.9,229.42 L71.3,229.98 L71.7,230.27 L72.1,229.72 L72.5,230.22 L72.9,230.08 L73.3,230.45 L73.7,229.66 L74.1,229.88 L74.5,229.03 L74.9,228.4 L75.3,230.2 L75.7,230.09 L76.1,229.05 L76.5,229.96 L76.9,229.84 L77.3,229.92 L77.7,229.97 L78.1,230.07 L78.5,229.62 L78.9,229.75 L79.3,227.48 L79.7,228.87 L80.1,229.54 L80.5,230.07 L80.9,229.02 L81.3,229.71 L81.7,228.66 L82.1,228.66 L82.5,228.49 L82.9,228.71 L83.3,229.41 L83.7,229.12 L84.1,228.78 L84.5,229.71 L84.9,229.42 L85.3,229.46 L85.7,229.2 L86.1,228.71 L86.5,228.66 L86.9,228.58 L87.3,229.61 L87.7,228.94 L88.1,229.2 L88.5,228.99 L88.9,228.41 L89.3,229.56 L89.7,228.73 L90.1,229.04 L90.5,229.73 L90.9,228.66 L91.3,228.66 L91.7,229.68 L92.1,228.47 L92.5,228.42 L92.9,228.41 L93.3,229.02 L93.7,228.61 L94.1,228.7 L94.5,229.12 L94.9,229.43 L95.3,228.54 L95.7,228.53 L96.1,227.8 L96.5,229.69 L96.9,228.99 L97.3,228.49 L97.7,228.66 L98.1,228.94 L98.5,228.59 L98.9,229.23 L99.3,228.83 L99.7,229.66 L100.1,228.8 L100.5,229.27 L100.9,229.55 L101.3,229.25 L101.7,228.75 L102.1,229.36 L102.5,229.88 L102.9,229.31 L103.3,229.06 L103.7,229.96 L104.1,229.78 L104.5,229.91 L104.9,227.97 L105.3,228.65 L105.7,229.94 L106.1,229.87 L106.5,229.59 L106.9,229.52 L107.3,229.98 L107.7,228.83 L108.1,229.04 L108.5,228.85 L108.9,229.08 L109.3,229.86 L109.7,228.98 L110.1,229.56 L110.5,229 L110.9,228.7 L111.3,229.45 L111.7,229.08 L112.1,229.27 L112.5,229.67 L112.9,229.67 L113.3,229.57 L113.7,229.34 L114.1,229.27 L114.5,227.13 L114.9,229.29 L115.3,229.68 L115.7,229.21 L116.1,229.11 L116.5,229.66 L116.9,228.8 L117.3,229.35 L117.7,229.71 L118.1,228.55 L118.5,229.21 L118.9,229.9 L119.3,229.04 L119.7,229.81 L120.1,229 L120.5,229.7 L120.9,229.33 L121.3,229.59 L121.7,229.6 L122.1,229.4 L122.5,229.01 L122.9,229.12 L123.3,229.25 L123.7,228.45 L124.1,229.35 L124.5,229.2 L124.9,229.14 L125.3,229.76 L125.7,228.57 L126.1,228.58 L126.5,227.81 L126.9,229.33 L127.3,228.45 L127.7,227.1 L128.1,229.63 L128.5,228.28 L128.9,229.42 L129.3,229.44 L129.7,228.58 L130.1,229.2 L130.5,228.15 L130.9,228.25 L131.3,227.64 L131.7,228.21 L132.1,227.99 L132.5,227.81 L132.9,228.7 L133.3,228.59 L133.7,227.93 L134.1,228.05 L134.5,228.27 L134.9,227.73 L135.3,228.47 L135.7,227.7 L136.1,228.18 L136.5,227.7 L136.9,227.67 L137.3,228 L137.7,227.83 L138.1,228.99 L138.5,226.45 L138.9,228.34 L139.3,228.26 L139.7,228.24 L140.1,228.3 L140.5,227.57 L140.9,228.43 L141.3,228.61 L141.7,228.32 L142.1,228.44 L142.5,228.61 L142.9,229.57 L143.3,229.63 L143.7,229.97 L144.1,229.75 L144.5,228.86 L144.9,230.15 L145.3,230.04 L145.7,229.88 L146.1,229.63 L146.5,230.11 L146.9,229.9 L147.3,229.67 L147.7,229.78 L148.1,229.62 L148.5,230.52 L148.9,229.1 L149.3,230.57 L149.7,230.31 L150.1,231.08 L150.5,231.04 L150.9,230.25 L151.3,230.52 L151.7,229.94 L152.1,230.74 L152.5,230.72 L152.9,230.67 L153.3,230.64 L153.7,229.97 L154.1,230.31 L154.5,230.72 L154.9,229.79 L155.3,229.58 L155.7,229.38 L156.1,229.3 L156.5,229.86 L156.9,229.83 L157.3,230.37 L157.7,229.81 L158.1,229.28 L158.5,230.41 L158.9,228.46 L159.3,229.5 L159.7,229.96 L160.1,229.07 L160.5,229.12 L160.9,229.56 L161.3,229.11 L161.7,229.08 L162.1,229.64 L162.5,229.18 L162.9,229.66 L163.3,230.02 L163.7,228.95 L164.1,229.92 L164.5,229.52 L164.9,228.79 L165.3,228.96 L165.7,229.86 L166.1,229.85 L166.5,229 L166.9,228.64 L167.3,229.43 L167.7,229.14 L168.1,229.27 L168.5,229.45 L168.9,229.35 L169.3,229.15 L169.7,228.89 L170.1,228.11 L170.5,228.49 L170.9,228.94 L171.3,229.13 L171.7,228 L172.1,228.67 L172.5,228.45 L172.9,227.76 L173.3,229.08 L173.7,228.04 L174.1,228.4 L174.5,227.61 L174.9,228.6 L175.3,227.86 L175.7,228.38 L176.1,228.1 L176.5,227.92 L176.9,228.69 L177.3,227.6 L177.7,227.86 L178.1,227.43 L178.5,228.17 L178.9,228.4 L179.3,227.88 L179.7,226.4 L180.1,226.63 L180.5,227.94 L180.9,227.75 L181.3,227.9 L181.7,228.06 L182.1,227.54 L182.5,227.05 L182.9,227.28 L183.3,226.73 L183.7,227.47 L184.1,225.96 L184.5,227.01 L184.9,227.58 L185.3,227.3 L185.7,227.46 L186.1,227.68 L186.5,227.83 L186.9,227.55 L187.3,227.8 L187.7,227.27 L188.1,227.1 L188.5,228.4 L188.9,228.18 L189.3,227.56 L189.7,227.77 L190.1,228.61 L190.5,226.63 L190.9,228.77 L191.3,227.9 L191.7,227.9 L192.1,229.08 L192.5,228.96 L192.9,228.97 L193.3,229.13 L193.7,228.58 L194.1,229.25 L194.5,228.34 L194.9,228.18 L195.3,228.43 L195.7,229.24 L196.1,229.35 L196.5,228.27 L196.9,227.1 L197.3,229.78 L197.7,229.22 L198.1,229.72 L198.5,229.44 L198.9,230.17 L199.3,228.57 L199.7,229.52 L200.1,229.91 L200.5,230.35 L200.9,229.4 L201.3,229.47 L201.7,228.92 L202.1,229.75 L202.5,229.03 L202.9,228.92 L203.3,229.6 L203.7,230 L204.1,229.12 L204.5,229.76 L204.9,229.69 L205.3,229.04 L205.7,229.37 L206.1,228.99 L206.5,229.4 L206.9,228.88 L207.3,229.78 L207.7,229.77 L208.1,228.93 L208.5,229.29 L208.9,229.93 L209.3,229.64 L209.7,229.01 L210.1,228.15 L210.5,228.54 L210.9,228.89 L211.3,229.3 L211.7,229.5 L212.1,228.89 L212.5,229.26 L212.9,229.14 L213.3,229.31 L213.3,236.03 L212.9,236.83 L212.5,236.69 L212.1,236.57 L211.7,237.62 L211.3,236.82 L210.9,235.97 L210.5,235.91 L210.1,236.21 L209.7,236.43 L209.3,236.78 L208.9,236.71 L208.5,236.39 L208.1,235.92 L207.7,236.95 L207.3,238.15 L206.9,236.99 L206.5,236.6 L206.1,236.08 L205.7,236.91 L205.3,236.78 L204.9,236.4 L204.5,236.52 L204.1,236.87 L203.7,236.72 L203.3,238.09 L202.9,237.02 L202.5,237.25 L202.1,236.62 L201.7,236.96 L201.3,236.71 L200.9,236.74 L200.5,237.4 L200.1,236.96 L199.7,238.46 L199.3,236.45 L198.9,237.25 L198.5,237.24 L198.1,236.58 L197.7,236.07 L197.3,235.92 L196.9,235.83 L196.5,236.58 L196.1,237.64 L195.7,235.61 L195.3,236.45 L194.9,237.37 L194.5,236.49 L194.1,235.72 L193.7,235.96 L193.3,235.31 L192.9,235.41 L192.5,236.17 L192.1,235.19 L191.7,235.88 L191.3,235.12 L190.9,236.01 L190.5,235.83 L190.1,236.17 L189.7,235.6 L189.3,235.79 L188.9,237.31 L188.5,234.8 L188.1,234.92 L187.7,235.91 L187.3,235.17 L186.9,236.55 L186.5,235.32 L186.1,234.95 L185.7,234.28 L185.3,234.57 L184.9,233.84 L184.5,233.88 L184.1,235.17 L183.7,236.08 L183.3,234.75 L182.9,235.98 L182.5,234.41 L182.1,235.22 L181.7,234.51 L181.3,237.13 L180.9,235.32 L180.5,234.46 L180.1,234.55 L179.7,235.45 L179.3,235.65 L178.9,235.13 L178.5,235.12 L178.1,234.48 L177.7,235.05 L177.3,236.77 L176.9,235.18 L176.5,234.63 L176.1,235.48 L175.7,235.06 L175.3,235.78 L174.9,235.6 L174.5,235.54 L174.1,235.55 L173.7,235.24 L173.3,234.97 L172.9,236.95 L172.5,235.81 L172.1,235.11 L171.7,235.56 L171.3,235.69 L170.9,235.74 L170.5,236.36 L170.1,235.77 L169.7,236.3 L169.3,235.92 L168.9,235.69 L168.5,236.96 L168.1,235.88 L167.7,236.7 L167.3,235.68 L166.9,236.19 L166.5,236.79 L166.1,236.99 L165.7,236.69 L165.3,236.28 L164.9,237.63 L164.5,237.02 L164.1,236.51 L163.7,237.37 L163.3,236.78 L162.9,237.31 L162.5,236.87 L162.1,236.45 L161.7,237.33 L161.3,236.4 L160.9,236.92 L160.5,237.12 L160.1,236.49 L159.7,236.67 L159.3,237.08 L158.9,237.44 L158.5,237.54 L158.1,236.81 L157.7,237.18 L157.3,237.68 L156.9,236.91 L156.5,236.86 L156.1,237.67 L155.7,237.14 L155.3,237.17 L154.9,237.39 L154.5,237.29 L154.1,237.77 L153.7,239.17 L153.3,237.13 L152.9,237.75 L152.5,238.03 L152.1,237.17 L151.7,238.79 L151.3,237.69 L150.9,238.99 L150.5,237.66 L150.1,237.94 L149.7,237.87 L149.3,237.41 L148.9,237.01 L148.5,237.81 L148.1,237.52 L147.7,237.66 L147.3,237.69 L146.9,237.01 L146.5,237.26 L146.1,236.53 L145.7,237.98 L145.3,236.48 L144.9,237.78 L144.5,236.96 L144.1,237.08 L143.7,236.44 L143.3,236.94 L142.9,235.84 L142.5,236.76 L142.1,237.65 L141.7,236.68 L141.3,236.06 L140.9,236.56 L140.5,235.85 L140.1,235.31 L139.7,235.34 L139.3,236.3 L138.9,235.63 L138.5,235.37 L138.1,236 L137.7,235.85 L137.3,234.88 L136.9,235.5 L136.5,235.84 L136.1,235.02 L135.7,235.6 L135.3,234.62 L134.9,234.76 L134.5,234.84 L134.1,234.86 L133.7,235.95 L133.3,234.89 L132.9,234.91 L132.5,235.78 L132.1,234.9 L131.7,235.26 L131.3,235.55 L130.9,235.83 L130.5,235.61 L130.1,235.85 L129.7,236.24 L129.3,235.99 L128.9,236.5 L128.5,236.72 L128.1,236.1 L127.7,236.05 L127.3,236.78 L126.9,236.02 L126.5,235.62 L126.1,236.27 L125.7,236.61 L125.3,236.36 L124.9,235.94 L124.5,236.51 L124.1,235.59 L123.7,236.17 L123.3,236.1 L122.9,235.88 L122.5,235.84 L122.1,236.78 L121.7,236.36 L121.3,235.89 L120.9,237.05 L120.5,237.02 L120.1,236.24 L119.7,236.63 L119.3,236.19 L118.9,236.43 L118.5,237 L118.1,236.99 L117.7,236.9 L117.3,235.86 L116.9,236.17 L116.5,236.94 L116.1,236.54 L115.7,236.41 L115.3,237 L114.9,237.14 L114.5,237.02 L114.1,236.91 L113.7,236.85 L113.3,236.69 L112.9,236.05 L112.5,236 L112.1,235.94 L111.7,238.75 L111.3,236.56 L110.9,236.37 L110.5,236.61 L110.1,236.55 L109.7,236.89 L109.3,236.74 L108.9,236.22 L108.5,236.06 L108.1,236.52 L107.7,236.69 L107.3,236.26 L106.9,236.2 L106.5,236.22 L106.1,235.88 L105.7,236.71 L105.3,236.01 L104.9,236.55 L104.5,236.15 L104.1,235.87 L103.7,236.92 L103.3,236.12 L102.9,236.33 L102.5,236.31 L102.1,236.81 L101.7,236.58 L101.3,236.14 L100.9,235.8 L100.5,236.72 L100.1,235.75 L99.7,235.76 L99.3,235.97 L98.9,238.4 L98.5,236.92 L98.1,236.69 L97.7,236.69 L97.3,236.41 L96.9,235.9 L96.5,236.04 L96.1,236.35 L95.7,236.79 L95.3,236.67 L94.9,236.77 L94.5,236.01 L94.1,235.73 L93.7,235.87 L93.3,236.89 L92.9,236.77 L92.5,236.73 L92.1,236.61 L91.7,235.72 L91.3,236.08 L90.9,236.24 L90.5,235.64 L90.1,236 L89.7,236.72 L89.3,235.91 L88.9,236.53 L88.5,236.41 L88.1,236.15 L87.7,235.65 L87.3,236.72 L86.9,235.56 L86.5,237.31 L86.1,235.73 L85.7,236.64 L85.3,236.91 L84.9,237.25 L84.5,238.59 L84.1,235.72 L83.7,235.92 L83.3,237.05 L82.9,237.08 L82.5,237.04 L82.1,236.57 L81.7,236.09 L81.3,236.98 L80.9,236.95 L80.5,237.09 L80.1,236.94 L79.7,236.81 L79.3,236.16 L78.9,236.48 L78.5,236.26 L78.1,237.26 L77.7,237.12 L77.3,237.17 L76.9,236.74 L76.5,237.42 L76.1,236.91 L75.7,237.12 L75.3,236.98 L74.9,237.45 L74.5,236.59 L74.1,237.5 L73.7,237.5 L73.3,237.44 L72.9,237.46 L72.5,239.07 L72.1,236.88 L71.7,236.86 L71.3,236.99 L70.9,238.65 L70.5,236.52 L70.1,237.43 L69.7,237.09 L69.3,237.49 L68.9,236.55 L68.5,237.51 L68.1,236.65 L67.7,236.56 L67.3,236.7 L66.9,237.89 L66.5,238.96 L66.1,237.41 L65.7,237.24 L65.3,237.01 L64.9,237.19 L64.5,236.74 L64.1,237.35 L63.7,237.56 L63.3,237.6 L62.9,237.62 L62.5,237.64 L62.1,237.9 L61.7,237.26 L61.3,238.2 L60.9,237.42 L60.5,237.65 L60.1,237.97 L59.7,238.09 L59.3,236.92 L58.9,238.23 L58.5,237.69 L58.1,236.92 L57.7,237.98 L57.3,237.96 L56.9,237.46 L56.5,237.44 L56.1,237.51 L55.7,237.45 L55.3,237.8 L54.9,237.53 L54.5,237.92 L54.1,236.97 L53.7,237.54 L53.3,238.29 L52.9,237.75 L52.5,237.08 L52.1,237.22 L51.7,237.55 L51.3,236.87 L50.9,237 L50.5,236.89 L50.1,237.36 L49.7,237.23 L49.3,237.52 L48.9,237.53 L48.5,237.43 L48.1,237.35 L47.7,237.87 L47.3,236.51 L46.9,236.62 L46.5,237.47 L46.1,237.05 L45.7,237.59 L45.3,237.62 L44.9,237.15 L44.5,236.79 L44.1,236.55Z" fill="#000"/><rect x="87" y="211.9" width="40.6" height="47.4" fill="rgb(189,189,189)" fill-opacity="0.47"/><rect x="36" y="211.5" width="186" height="48.7" fill="none" stroke="#444" stroke-width="1"/><line x1="33.5" y1="212.3" x2="36" y2="212.3" stroke="#444" stroke-width="1"/><text x="31.5" y="216" font-size="10.7" text-anchor="end" font-weight="normal" fill="#1a1a1a">3</text><line x1="33.5" y1="232.8" x2="36" y2="232.8" stroke="#444" stroke-width="1"/><text x="31.5" y="236.5" font-size="10.7" text-anchor="end" font-weight="normal" fill="#1a1a1a">0</text><line x1="33.5" y1="254.4" x2="36" y2="254.4" stroke="#444" stroke-width="1"/><text x="31.5" y="258.1" font-size="10.7" text-anchor="end" font-weight="normal" fill="#1a1a1a">3</text><rect x="129.6" y="211.5" width="14.8" height="48.6" fill="none" stroke="#ff0000" stroke-width="2.5"/><line x1="44.8" y1="348" x2="213.8" y2="348" stroke="#9a9a9a" stroke-width="1.5" stroke-dasharray="4.2,2.4"/><line x1="44.8" y1="353.4" x2="213.8" y2="353.4" stroke="#6e6e6e" stroke-width="1"/><path d="M44.3,355.8 C45.47,355.27 49.57,353.02 51.3,352.6 C53.03,352.18 53.55,352.83 54.7,353.3 C55.85,353.77 56.7,355.28 58.2,355.4 C59.7,355.52 61.97,354.63 63.7,354 C65.43,353.37 67.08,351.6 68.6,351.6 C70.12,351.6 71.3,353.6 72.8,354 C74.3,354.4 75.98,354.18 77.6,354 C79.22,353.82 80.88,352.73 82.5,352.9 C84.12,353.07 85.8,354.82 87.3,355 C88.8,355.18 90.12,354 91.5,354 C92.88,354 93.87,354.62 95.6,355 C97.33,355.38 99.93,356.08 101.9,356.3 C103.87,356.52 105.67,356.68 107.4,356.3 C109.13,355.92 110.33,354 112.3,354 C114.27,354 117.12,356.07 119.2,356.3 C121.28,356.53 123.03,355.53 124.8,355.4 C126.57,355.27 128.62,356 129.8,355.5 C130.98,355 131.22,355.68 131.9,352.4 C132.58,349.12 133.22,340.37 133.9,335.8 C134.58,331.23 135.3,325 136,325 C136.7,325 137.4,331.23 138.1,335.8 C138.8,340.37 139.38,349.12 140.2,352.4 C141.02,355.68 141.73,355.03 143,355.5 C144.27,355.97 146.3,355.43 147.8,355.2 C149.3,354.97 150.62,354.22 152,354.1 C153.38,353.98 155.07,354.55 156.1,354.5 C157.13,354.45 157.5,354.48 158.2,353.8 C158.9,353.12 159.45,351.83 160.3,350.4 C161.15,348.97 162.15,345.27 163.3,345.2 C164.45,345.13 165.97,348.9 167.2,350 C168.43,351.1 169.53,350.93 170.7,351.8 C171.87,352.67 173.17,354.75 174.2,355.2 C175.23,355.65 175.63,354.33 176.9,354.5 C178.17,354.67 180.3,356.08 181.8,356.2 C183.3,356.32 184.52,356.17 185.9,355.2 C187.28,354.23 188.58,350.67 190.1,350.4 C191.62,350.13 193.5,353.53 195,353.6 C196.5,353.67 197.83,350.72 199.1,350.8 C200.37,350.88 201.45,353.93 202.6,354.1 C203.75,354.27 204.85,352.03 206,351.8 C207.15,351.57 208.33,352.32 209.5,352.7 C210.67,353.08 212.42,353.87 213,354.1" fill="none" stroke="#111" stroke-width="1.2" stroke-linejoin="round"/><rect x="36" y="263.5" width="185.9" height="96.9" fill="none" stroke="#444" stroke-width="1"/><line x1="33.5" y1="356.4" x2="36" y2="356.4" stroke="#444" stroke-width="1"/><text x="31.5" y="360.1" font-size="10.7" text-anchor="end" font-weight="normal" fill="#1a1a1a">0</text><line x1="33.5" y1="318.9" x2="36" y2="318.9" stroke="#444" stroke-width="1"/><text x="31.5" y="322.6" font-size="10.7" text-anchor="end" font-weight="normal" fill="#1a1a1a">10</text><line x1="33.5" y1="281.4" x2="36" y2="281.4" stroke="#444" stroke-width="1"/><text x="31.5" y="285.1" font-size="10.7" text-anchor="end" font-weight="normal" fill="#1a1a1a">20</text><line x1="44.3" y1="360.4" x2="44.3" y2="362.9" stroke="#444" stroke-width="1"/><text x="44.3" y="374" font-size="10.7" text-anchor="middle" font-weight="normal" fill="#1a1a1a">-200</text><line x1="86.6" y1="360.4" x2="86.6" y2="362.9" stroke="#444" stroke-width="1"/><text x="86.6" y="374" font-size="10.7" text-anchor="middle" font-weight="normal" fill="#1a1a1a">-100</text><line x1="128.9" y1="360.4" x2="128.9" y2="362.9" stroke="#444" stroke-width="1"/><text x="128.9" y="374" font-size="10.7" text-anchor="middle" font-weight="bold" fill="#ff0000">0</text><line x1="144.3" y1="360.4" x2="144.3" y2="362.9" stroke="#444" stroke-width="1"/><text x="144.3" y="374" font-size="10.7" text-anchor="middle" font-weight="bold" fill="#ff0000">30</text><line x1="171.2" y1="360.4" x2="171.2" y2="362.9" stroke="#444" stroke-width="1"/><text x="171.2" y="374" font-size="10.7" text-anchor="middle" font-weight="normal" fill="#1a1a1a">100</text><line x1="213.5" y1="360.4" x2="213.5" y2="362.9" stroke="#444" stroke-width="1"/><text x="213.5" y="374" font-size="10.7" text-anchor="middle" font-weight="normal" fill="#1a1a1a">200</text><text x="128.9" y="385.9" font-size="11.2" text-anchor="middle" font-weight="normal" fill="#1a1a1a">(ms)</text>
<path d="M250.5,229.8 L250.9,230.38 L251.3,230.33 L251.7,230.33 L252.1,230.38 L252.5,230.21 L252.9,230.72 L253.3,229.74 L253.7,229.15 L254.1,230.28 L254.5,230.41 L254.9,229.79 L255.3,229.96 L255.7,230.77 L256.1,229.63 L256.5,230.75 L256.9,230.06 L257.3,230.04 L257.7,230.29 L258.1,230.08 L258.5,230.61 L258.9,230.31 L259.3,230.7 L259.7,228.14 L260.1,230.75 L260.5,230.39 L260.9,230.61 L261.3,229.56 L261.7,229.99 L262.1,228.82 L262.5,229.8 L262.9,230.17 L263.3,230.55 L263.7,229.91 L264.1,229.66 L264.5,230.36 L264.9,230.49 L265.3,230.64 L265.7,230.36 L266.1,229.98 L266.5,229.41 L266.9,230.46 L267.3,230.62 L267.7,229.33 L268.1,230.29 L268.5,229.34 L268.9,230.33 L269.3,229.35 L269.7,229.7 L270.1,229.43 L270.5,230.39 L270.9,230.36 L271.3,229.27 L271.7,229.78 L272.1,229.33 L272.5,227.8 L272.9,230.09 L273.3,230 L273.7,229.65 L274.1,229.7 L274.5,229.86 L274.9,230.21 L275.3,229.94 L275.7,230.06 L276.1,229.31 L276.5,229.66 L276.9,228.96 L277.3,230.05 L277.7,229.71 L278.1,228.87 L278.5,228.69 L278.9,229.88 L279.3,229.66 L279.7,229.64 L280.1,229.6 L280.5,229.76 L280.9,229.74 L281.3,228.68 L281.7,229.01 L282.1,228.84 L282.5,229.58 L282.9,229.15 L283.3,228.14 L283.7,229.31 L284.1,228.61 L284.5,228.98 L284.9,229.06 L285.3,226.49 L285.7,228.4 L286.1,229.24 L286.5,228.66 L286.9,228.2 L287.3,227.9 L287.7,229.01 L288.1,228.62 L288.5,229.11 L288.9,228.4 L289.3,228.64 L289.7,228.99 L290.1,227.78 L290.5,228.33 L290.9,228.75 L291.3,229.03 L291.7,228.51 L292.1,228.6 L292.5,228.46 L292.9,228.83 L293.3,228.69 L293.7,228.51 L294.1,227.9 L294.5,228.73 L294.9,228.24 L295.3,228.13 L295.7,228.31 L296.1,228.24 L296.5,228.97 L296.9,228.79 L297.3,228.36 L297.7,228.09 L298.1,228.1 L298.5,227.76 L298.9,229.02 L299.3,228.76 L299.7,227.86 L300.1,228.61 L300.5,229.14 L300.9,229.05 L301.3,228.77 L301.7,227.19 L302.1,229.42 L302.5,229.13 L302.9,229.6 L303.3,229.23 L303.7,229.77 L304.1,229.97 L304.5,230.21 L304.9,231.55 L305.3,233.75 L305.7,233.63 L306.1,233.69 L306.5,236.92 L306.9,237.24 L307.3,238.86 L307.7,240.38 L308.1,237.94 L308.5,237.61 L308.9,236.11 L309.3,235.11 L309.7,232.78 L310.1,232.58 L310.5,231.57 L310.9,232.01 L311.3,231.65 L311.7,231.32 L312.1,231.31 L312.5,229.72 L312.9,229.75 L313.3,229.69 L313.7,230 L314.1,228.57 L314.5,229.49 L314.9,228.93 L315.3,228.42 L315.7,228.71 L316.1,228.74 L316.5,227.91 L316.9,228.26 L317.3,228.39 L317.7,227.84 L318.1,228.43 L318.5,229.02 L318.9,227.94 L319.3,228.66 L319.7,227.85 L320.1,228.78 L320.5,228.45 L320.9,227.88 L321.3,228.35 L321.7,228.84 L322.1,228.08 L322.5,228.13 L322.9,229.11 L323.3,227.98 L323.7,228.97 L324.1,228.95 L324.5,228.63 L324.9,228.11 L325.3,226.65 L325.7,229.01 L326.1,228.17 L326.5,228.65 L326.9,229.08 L327.3,228.32 L327.7,228.66 L328.1,228.88 L328.5,228.48 L328.9,228.95 L329.3,228.93 L329.7,228.54 L330.1,228.56 L330.5,228.43 L330.9,229.32 L331.3,229.13 L331.7,227.47 L332.1,229.26 L332.5,229.22 L332.9,229.14 L333.3,228.74 L333.7,228.91 L334.1,229.29 L334.5,228.33 L334.9,229.07 L335.3,229.06 L335.7,226.94 L336.1,228.52 L336.5,229.11 L336.9,227.26 L337.3,228.41 L337.7,228.66 L338.1,228.75 L338.5,229.47 L338.9,229.74 L339.3,229.89 L339.7,228.82 L340.1,229.85 L340.5,229.25 L340.9,230.08 L341.3,230.45 L341.7,230.35 L342.1,229.93 L342.5,230.61 L342.9,229.89 L343.3,230.17 L343.7,229.74 L344.1,229.66 L344.5,230.55 L344.9,229.74 L345.3,229.54 L345.7,230.16 L346.1,230.12 L346.5,229.43 L346.9,229.45 L347.3,229.42 L347.7,228.95 L348.1,229.58 L348.5,227.64 L348.9,228.28 L349.3,228.43 L349.7,228.17 L350.1,229.03 L350.5,228.02 L350.9,227.87 L351.3,227.7 L351.7,225.94 L352.1,227.83 L352.5,228.42 L352.9,227.18 L353.3,228.11 L353.7,227.57 L354.1,227.66 L354.5,227 L354.9,226.57 L355.3,226.4 L355.7,226.3 L356.1,226.87 L356.5,227.45 L356.9,226.83 L357.3,226.29 L357.7,227.5 L358.1,227.42 L358.5,226.65 L358.9,227.58 L359.3,227.13 L359.7,226.67 L360.1,226.46 L360.5,226.09 L360.9,227.37 L361.3,227.49 L361.7,226.69 L362.1,226.74 L362.5,227.5 L362.9,226.81 L363.3,227.04 L363.7,227.27 L364.1,225.2 L364.5,227 L364.9,227.4 L365.3,226.83 L365.7,227.77 L366.1,226.21 L366.5,226.38 L366.9,226.84 L367.3,228.28 L367.7,228.33 L368.1,227.49 L368.5,227.19 L368.9,228.06 L369.3,228.7 L369.7,228.89 L370.1,229.5 L370.5,230.72 L370.9,231.23 L371.3,231.01 L371.7,231.37 L372.1,231.24 L372.5,231.71 L372.9,230.91 L373.3,231.56 L373.7,230.41 L374.1,230.9 L374.5,229.87 L374.9,229.26 L375.3,230.14 L375.7,228.7 L376.1,229.29 L376.5,228.32 L376.9,229.1 L377.3,229.1 L377.7,229.34 L378.1,228.62 L378.5,229.2 L378.9,228.28 L379.3,228.42 L379.7,229.09 L380.1,227.16 L380.5,228.97 L380.9,228.48 L381.3,229.32 L381.7,229.29 L382.1,228.97 L382.5,229.23 L382.9,228.43 L383.3,228.72 L383.7,229.64 L384.1,229 L384.5,228.16 L384.9,229.94 L385.3,229.91 L385.7,229.33 L386.1,230.19 L386.5,230.06 L386.9,230.47 L387.3,229.51 L387.7,229.43 L388.1,229.8 L388.5,229.59 L388.9,230.39 L389.3,230.2 L389.7,230.86 L390.1,228.15 L390.5,229.84 L390.9,230.43 L391.3,230.25 L391.7,231.11 L392.1,230.69 L392.5,230.65 L392.9,230.89 L393.3,231.34 L393.7,230.08 L394.1,230.67 L394.5,231.21 L394.9,231.26 L395.3,230.78 L395.7,230.5 L396.1,230.51 L396.5,230.49 L396.9,231.43 L397.3,231.42 L397.7,230.68 L398.1,231.69 L398.5,231.25 L398.9,231.09 L399.3,231.13 L399.7,230.58 L400.1,230.91 L400.5,231.35 L400.9,231.44 L401.3,230.73 L401.7,229.2 L402.1,230.4 L402.5,230.6 L402.9,230.27 L403.3,230.2 L403.7,230.34 L404.1,230.44 L404.5,230.4 L404.9,229.91 L405.3,230.16 L405.7,230.48 L406.1,230.24 L406.5,229.86 L406.9,229.89 L407.3,230.24 L407.7,230.33 L408.1,229.54 L408.5,229.24 L408.9,228.95 L409.3,229.34 L409.7,230.06 L410.1,229.22 L410.5,229.11 L410.9,229.27 L411.3,227.86 L411.7,227.66 L412.1,229.27 L412.5,229.47 L412.9,228.37 L413.3,228.14 L413.7,228.61 L414.1,228.73 L414.5,228.62 L414.9,229.05 L415.3,227.92 L415.7,227.76 L416.1,228.46 L416.5,227.39 L416.9,227.89 L417.3,227.73 L417.7,227.88 L418.1,227.98 L418.5,227.65 L418.9,227.78 L419.3,228.11 L419.3,235.3 L418.9,234.84 L418.5,234.14 L418.1,234.22 L417.7,234.5 L417.3,235.7 L416.9,235.7 L416.5,235.16 L416.1,234.71 L415.7,234.96 L415.3,236.16 L414.9,235.49 L414.5,235.9 L414.1,235.2 L413.7,236.74 L413.3,236.43 L412.9,236.34 L412.5,235.5 L412.1,236.74 L411.7,235.87 L411.3,238.3 L410.9,236.1 L410.5,236.34 L410.1,236.73 L409.7,236.85 L409.3,237.29 L408.9,236.56 L408.5,236.35 L408.1,237.58 L407.7,237.44 L407.3,237.74 L406.9,236.91 L406.5,237.45 L406.1,236.65 L405.7,237.27 L405.3,237.29 L404.9,236.97 L404.5,237.22 L404.1,238.38 L403.7,237.8 L403.3,237.48 L402.9,237.82 L402.5,238.4 L402.1,238.04 L401.7,237.6 L401.3,240.64 L400.9,238.68 L400.5,238.97 L400.1,238.14 L399.7,238.25 L399.3,238.46 L398.9,238.54 L398.5,237.87 L398.1,238.97 L397.7,237.63 L397.3,238.77 L396.9,237.78 L396.5,238.82 L396.1,238.21 L395.7,237.84 L395.3,237.91 L394.9,237.65 L394.5,237.8 L394.1,237.4 L393.7,238.06 L393.3,238.17 L392.9,237.45 L392.5,237.8 L392.1,237.24 L391.7,238.08 L391.3,237.9 L390.9,237.54 L390.5,237.04 L390.1,237.37 L389.7,237.14 L389.3,237.24 L388.9,236.75 L388.5,237.91 L388.1,237.7 L387.7,237.19 L387.3,237.28 L386.9,237.3 L386.5,236.54 L386.1,236.69 L385.7,236.57 L385.3,236.33 L384.9,237.21 L384.5,236.6 L384.1,235.98 L383.7,236.09 L383.3,236.22 L382.9,236.62 L382.5,235.58 L382.1,235.72 L381.7,236.51 L381.3,235.32 L380.9,235.55 L380.5,235.24 L380.1,235.07 L379.7,235.02 L379.3,235.12 L378.9,235.16 L378.5,235.31 L378.1,238.05 L377.7,236.55 L377.3,236.38 L376.9,235.68 L376.5,235.97 L376.1,236.23 L375.7,236.44 L375.3,237.26 L374.9,236.4 L374.5,238.5 L374.1,237.95 L373.7,237.47 L373.3,237.79 L372.9,238.6 L372.5,237.94 L372.1,238.46 L371.7,239.12 L371.3,239.01 L370.9,238.57 L370.5,236.93 L370.1,237.16 L369.7,236.3 L369.3,235.36 L368.9,235.36 L368.5,234.43 L368.1,234.83 L367.7,234.38 L367.3,234.13 L366.9,234.35 L366.5,234.06 L366.1,234.17 L365.7,234.66 L365.3,234.83 L364.9,234.59 L364.5,235.03 L364.1,234.35 L363.7,234.16 L363.3,233.76 L362.9,233.69 L362.5,233.8 L362.1,234.64 L361.7,234.17 L361.3,233.92 L360.9,234.48 L360.5,234.68 L360.1,234.59 L359.7,234.05 L359.3,233.78 L358.9,236.71 L358.5,234.43 L358.1,234.41 L357.7,234.07 L357.3,233.87 L356.9,233.53 L356.5,234.78 L356.1,234.01 L355.7,233.75 L355.3,234.14 L354.9,233.6 L354.5,234.35 L354.1,233.7 L353.7,233.87 L353.3,234.42 L352.9,235.5 L352.5,235.1 L352.1,235.08 L351.7,235.45 L351.3,235.68 L350.9,234.82 L350.5,235.74 L350.1,235.55 L349.7,236.29 L349.3,236 L348.9,236.11 L348.5,235.9 L348.1,236.36 L347.7,236.68 L347.3,237.54 L346.9,237.62 L346.5,237.79 L346.1,237.75 L345.7,236.69 L345.3,237.15 L344.9,237.02 L344.5,236.89 L344.1,237.43 L343.7,237.8 L343.3,237.76 L342.9,237.05 L342.5,237.1 L342.1,237.35 L341.7,236.73 L341.3,236.64 L340.9,237.69 L340.5,236.39 L340.1,236.95 L339.7,236.28 L339.3,237.01 L338.9,235.81 L338.5,235.78 L338.1,236.1 L337.7,236.55 L337.3,236.14 L336.9,235.51 L336.5,236.22 L336.1,236.71 L335.7,235.69 L335.3,236.26 L334.9,236.65 L334.5,236.53 L334.1,236.17 L333.7,235.95 L333.3,236.54 L332.9,235.62 L332.5,236.29 L332.1,235.63 L331.7,235.74 L331.3,236.55 L330.9,236.07 L330.5,235.6 L330.1,236.13 L329.7,236.36 L329.3,235.17 L328.9,236.23 L328.5,235.97 L328.1,235.95 L327.7,236.18 L327.3,236.16 L326.9,236.28 L326.5,235.58 L326.1,235.68 L325.7,235.71 L325.3,237.36 L324.9,236.18 L324.5,236.2 L324.1,238.07 L323.7,235.27 L323.3,236.39 L322.9,237.03 L322.5,235.96 L322.1,235.07 L321.7,235.06 L321.3,236.1 L320.9,235.33 L320.5,235.19 L320.1,235.32 L319.7,235.63 L319.3,237.54 L318.9,235.24 L318.5,235.49 L318.1,235.84 L317.7,235.4 L317.3,235 L316.9,234.94 L316.5,234.94 L316.1,235.46 L315.7,236.23 L315.3,237.06 L314.9,235.16 L314.5,236.58 L314.1,235.84 L313.7,237.07 L313.3,236.69 L312.9,237.08 L312.5,238.11 L312.1,239.04 L311.7,238.9 L311.3,238.14 L310.9,238.9 L310.5,239.06 L310.1,239.81 L309.7,240.55 L309.3,242.53 L308.9,242.8 L308.5,244.61 L308.1,247.25 L307.7,249.2 L307.3,245.57 L306.9,245.01 L306.5,243.05 L306.1,242.24 L305.7,243.34 L305.3,240.71 L304.9,238.77 L304.5,238.16 L304.1,237.17 L303.7,236.73 L303.3,236.98 L302.9,235.84 L302.5,235.91 L302.1,236.36 L301.7,235.8 L301.3,235.95 L300.9,235.61 L300.5,236.06 L300.1,235.89 L299.7,235.33 L299.3,235.85 L298.9,236.59 L298.5,236.06 L298.1,235.78 L297.7,235.41 L297.3,235.68 L296.9,235.34 L296.5,235.53 L296.1,236.25 L295.7,235.05 L295.3,236.22 L294.9,236.25 L294.5,236.09 L294.1,235.62 L293.7,236.06 L293.3,235.87 L292.9,235.85 L292.5,235.49 L292.1,235.29 L291.7,234.97 L291.3,236.15 L290.9,234.95 L290.5,235.95 L290.1,236.07 L289.7,235.62 L289.3,235.48 L288.9,236.32 L288.5,237.7 L288.1,236.25 L287.7,235.42 L287.3,235.35 L286.9,236.3 L286.5,236.5 L286.1,236.05 L285.7,236.56 L285.3,236.21 L284.9,235.9 L284.5,235.72 L284.1,235.64 L283.7,235.96 L283.3,237.18 L282.9,236.6 L282.5,236.62 L282.1,236.59 L281.7,236.79 L281.3,235.83 L280.9,236.68 L280.5,236.36 L280.1,236.74 L279.7,236.8 L279.3,237.01 L278.9,236.67 L278.5,236.77 L278.1,236.67 L277.7,237.09 L277.3,236.96 L276.9,236.19 L276.5,236.12 L276.1,236.07 L275.7,235.99 L275.3,236.48 L274.9,236.09 L274.5,236.15 L274.1,236.42 L273.7,236.53 L273.3,237.46 L272.9,236.98 L272.5,237.46 L272.1,236.42 L271.7,236.79 L271.3,236.96 L270.9,236.5 L270.5,237.03 L270.1,237.71 L269.7,236.93 L269.3,237.32 L268.9,238.53 L268.5,237.22 L268.1,236.7 L267.7,236.93 L267.3,236.95 L266.9,238.2 L266.5,236.69 L266.1,237.71 L265.7,237.21 L265.3,237.26 L264.9,236.7 L264.5,237.14 L264.1,237.32 L263.7,236.61 L263.3,236.78 L262.9,236.8 L262.5,236.92 L262.1,238.57 L261.7,237.54 L261.3,236.76 L260.9,236.84 L260.5,237.59 L260.1,237.44 L259.7,237.87 L259.3,236.76 L258.9,237.32 L258.5,237.1 L258.1,237.5 L257.7,236.79 L257.3,237.85 L256.9,237.39 L256.5,238.41 L256.1,237.18 L255.7,237.54 L255.3,237.14 L254.9,239.24 L254.5,238.19 L254.1,236.88 L253.7,237.61 L253.3,237.97 L252.9,237.92 L252.5,236.91 L252.1,238.01 L251.7,238.12 L251.3,237.53 L250.9,239.54 L250.5,237.96Z" fill="#6a9bc6"/><line x1="343" y1="215.7" x2="343.2" y2="250" stroke="#6a9bc6" stroke-width="1.3"/><path d="M339.5,233.5 C341,236 342.3,244 343.4,257.5 C344.3,250 345.6,243 347.3,238.5 C348.3,236 349.3,234.5 350.5,233.5" fill="none" stroke="#6a9bc6" stroke-width="2.1" stroke-linejoin="round"/><rect x="293.4" y="211.9" width="40.2" height="47.4" fill="rgb(189,189,189)" fill-opacity="0.47"/><rect x="242.5" y="211.5" width="186" height="48.7" fill="none" stroke="#444" stroke-width="1"/><line x1="240" y1="212.3" x2="242.5" y2="212.3" stroke="#444" stroke-width="1"/><text x="238" y="216" font-size="10.7" text-anchor="end" font-weight="normal" fill="#1a1a1a">3</text><line x1="240" y1="232.8" x2="242.5" y2="232.8" stroke="#444" stroke-width="1"/><text x="238" y="236.5" font-size="10.7" text-anchor="end" font-weight="normal" fill="#1a1a1a">0</text><line x1="240" y1="254.4" x2="242.5" y2="254.4" stroke="#444" stroke-width="1"/><text x="238" y="258.1" font-size="10.7" text-anchor="end" font-weight="normal" fill="#1a1a1a">3</text><rect x="335.7" y="211.5" width="15.1" height="48.6" fill="none" stroke="#ff0000" stroke-width="2.5"/><line x1="251.48" y1="348" x2="419.92" y2="348" stroke="#9a9a9a" stroke-width="1.5" stroke-dasharray="4.2,2.4"/><line x1="251.48" y1="353.4" x2="419.92" y2="353.4" stroke="#6e6e6e" stroke-width="1"/><path d="M250.7,347.6 C251,347.42 251.8,346.5 252.5,346.5 C253.2,346.5 254.03,347.72 254.9,347.6 C255.77,347.48 256.68,346.52 257.7,345.8 C258.72,345.08 259.95,343.13 261,343.3 C262.05,343.47 262.98,345.92 264,346.8 C265.02,347.68 265.92,347.37 267.1,348.6 C268.28,349.83 269.92,353.62 271.1,354.2 C272.28,354.78 273.27,352.22 274.2,352.1 C275.13,351.98 275.77,352.8 276.7,353.5 C277.63,354.2 278.63,356.25 279.8,356.3 C280.97,356.35 282.35,353.8 283.7,353.8 C285.05,353.8 286.5,356.35 287.9,356.3 C289.3,356.25 290.88,353.68 292.1,353.5 C293.32,353.32 294.27,356.6 295.2,355.2 C296.13,353.8 296.82,348.62 297.7,345.1 C298.58,341.58 299.6,334.33 300.5,334.1 C301.4,333.87 302.2,340.82 303.1,343.7 C304,346.58 304.92,351.63 305.9,351.4 C306.88,351.17 308.02,344.33 309,342.3 C309.98,340.27 310.87,339.62 311.8,339.2 C312.73,338.78 313.67,339 314.6,339.8 C315.53,340.6 316.42,344.57 317.4,344 C318.38,343.43 319.45,336.97 320.5,336.4 C321.55,335.83 322.82,340.03 323.7,340.6 C324.58,341.17 325.1,339.75 325.8,339.8 C326.5,339.85 327.15,340.9 327.9,340.9 C328.65,340.9 329.48,339.1 330.3,339.8 C331.12,340.5 331.92,343.75 332.8,345.1 C333.68,346.45 335,347.58 335.6,347.9 C336.2,348.22 336.03,348.88 336.4,347 C336.77,345.12 337.27,345.27 337.8,336.6 C338.33,327.93 338.97,306.33 339.6,295 C340.23,283.67 340.98,268.6 341.6,268.6 C342.22,268.6 342.78,286.2 343.3,295 C343.82,303.8 344,311.8 344.7,321.4 C345.4,331 346.68,346.78 347.5,352.6 C348.32,358.42 348.8,355.83 349.6,356.3 C350.4,356.77 351.27,356.08 352.3,355.4 C353.33,354.72 354.63,352.43 355.8,352.2 C356.97,351.97 357.92,353.7 359.3,354 C360.68,354.3 362.95,354.23 364.1,354 C365.25,353.77 365.03,354.38 366.2,352.6 C367.37,350.82 369.83,344.62 371.1,343.3 C372.37,341.98 372.77,345.62 373.8,344.7 C374.83,343.78 376.32,337.87 377.3,337.8 C378.28,337.73 378.88,341.83 379.7,344.3 C380.52,346.77 381.1,353.3 382.2,352.6 C383.3,351.9 384.87,339.98 386.3,340.1 C387.73,340.22 389.3,354.07 390.8,353.3 C392.3,352.53 393.85,335.38 395.3,335.5 C396.75,335.62 398.22,350.53 399.5,354 C400.78,357.47 401.97,356 403,356.3 C404.03,356.6 404.78,356.72 405.7,355.8 C406.62,354.88 407.45,351.8 408.5,350.8 C409.55,349.8 411.03,351.18 412,349.8 C412.97,348.42 413.5,342.97 414.3,342.5 C415.1,342.03 415.97,345.08 416.8,347 C417.63,348.92 418.88,352.83 419.3,354" fill="none" stroke="#6699cb" stroke-width="1.15" stroke-linejoin="round"/><rect x="242.5" y="263.5" width="186" height="96.9" fill="none" stroke="#444" stroke-width="1"/><line x1="240" y1="356.4" x2="242.5" y2="356.4" stroke="#444" stroke-width="1"/><text x="238" y="360.1" font-size="10.7" text-anchor="end" font-weight="normal" fill="#1a1a1a">0</text><line x1="240" y1="318.9" x2="242.5" y2="318.9" stroke="#444" stroke-width="1"/><text x="238" y="322.6" font-size="10.7" text-anchor="end" font-weight="normal" fill="#1a1a1a">10</text><line x1="240" y1="281.4" x2="242.5" y2="281.4" stroke="#444" stroke-width="1"/><text x="238" y="285.1" font-size="10.7" text-anchor="end" font-weight="normal" fill="#1a1a1a">20</text><line x1="250.98" y1="360.4" x2="250.98" y2="362.9" stroke="#444" stroke-width="1"/><text x="250.98" y="374" font-size="10.7" text-anchor="middle" font-weight="normal" fill="#1a1a1a">-200</text><line x1="293.14" y1="360.4" x2="293.14" y2="362.9" stroke="#444" stroke-width="1"/><text x="293.14" y="374" font-size="10.7" text-anchor="middle" font-weight="normal" fill="#1a1a1a">-100</text><line x1="335.3" y1="360.4" x2="335.3" y2="362.9" stroke="#444" stroke-width="1"/><text x="335.3" y="374" font-size="10.7" text-anchor="middle" font-weight="bold" fill="#ff0000">0</text><line x1="350.5" y1="360.4" x2="350.5" y2="362.9" stroke="#444" stroke-width="1"/><text x="350.5" y="374" font-size="10.7" text-anchor="middle" font-weight="bold" fill="#ff0000">30</text><line x1="377.46" y1="360.4" x2="377.46" y2="362.9" stroke="#444" stroke-width="1"/><text x="377.46" y="374" font-size="10.7" text-anchor="middle" font-weight="normal" fill="#1a1a1a">100</text><line x1="419.62" y1="360.4" x2="419.62" y2="362.9" stroke="#444" stroke-width="1"/><text x="419.62" y="374" font-size="10.7" text-anchor="middle" font-weight="normal" fill="#1a1a1a">200</text><text x="335.3" y="385.9" font-size="11.2" text-anchor="middle" font-weight="normal" fill="#1a1a1a">(ms)</text>
<text x="0" y="0" font-size="11" text-anchor="middle" font-weight="bold" fill="#000" transform="translate(436.3,300.4) rotate(90)">Neuron #2</text>
<text x="0" y="0" font-size="11.2" text-anchor="middle" font-weight="normal" fill="#1a1a1a" transform="translate(14.2,312.9) rotate(-90)">Frequency (Hz)</text>
<text x="0" y="0" font-size="11.2" text-anchor="middle" font-weight="normal" fill="#1a1a1a" transform="translate(20.4,236.5) rotate(-90)">mV</text>
<text x="458" y="169.9" font-size="16.6" text-anchor="start" font-weight="bold" fill="#000">D</text>
<line x1="499.9" y1="243.8" x2="682.2" y2="243.8" stroke="#ff2020" stroke-width="1.6" stroke-dasharray="5.1,3.4"/><g stroke="#333" stroke-width="1.5" fill="none"><rect x="504.3" y="237.9" width="48.7" height="18"/><line x1="504.3" y1="246.7" x2="553" y2="246.7"/><line x1="528.7" y1="216.9" x2="528.7" y2="237.9"/><line x1="528.7" y1="255.9" x2="528.7" y2="270.1"/><line x1="516.6" y1="216.9" x2="541.6" y2="216.9"/><line x1="516.6" y1="270.1" x2="541.6" y2="270.1"/></g><g stroke="#333" stroke-width="1.5" fill="none"><rect x="565" y="259.6" width="49.3" height="24.9"/><line x1="565" y1="272.6" x2="614.3" y2="272.6"/><line x1="589.7" y1="256.8" x2="589.7" y2="259.6"/><line x1="589.7" y1="284.5" x2="589.7" y2="307.9"/><line x1="577.3" y1="256.8" x2="602.3" y2="256.8"/><line x1="577.3" y1="307.9" x2="602.3" y2="307.9"/></g><g stroke="#333" stroke-width="1.5" fill="none"><rect x="625.6" y="216.8" width="49.9" height="10.6"/><line x1="625.6" y1="222.2" x2="675.5" y2="222.2"/><line x1="650.5" y1="210.1" x2="650.5" y2="216.8"/><line x1="650.5" y1="227.4" x2="650.5" y2="229.1"/><line x1="637.9" y1="210.1" x2="663.2" y2="210.1"/><line x1="637.9" y1="229.1" x2="663.2" y2="229.1"/></g><circle cx="589.6" cy="328.1" r="1.2" fill="#333"/><rect x="498.5" y="179.1" width="183" height="161.8" fill="none" stroke="#444" stroke-width="1"/><line x1="496.7" y1="179" x2="498.5" y2="179" stroke="#333"/><text x="494.6" y="182.9" font-size="11" text-anchor="end" font-weight="normal" fill="#1a1a1a">20</text><line x1="496.7" y1="211.35" x2="498.5" y2="211.35" stroke="#333"/><text x="494.6" y="215.25" font-size="11" text-anchor="end" font-weight="normal" fill="#1a1a1a">10</text><line x1="496.7" y1="243.7" x2="498.5" y2="243.7" stroke="#333"/><text x="494.6" y="247.6" font-size="11" text-anchor="end" font-weight="normal" fill="#1a1a1a">0</text><line x1="496.7" y1="276.05" x2="498.5" y2="276.05" stroke="#333"/><text x="494.6" y="279.95" font-size="11" text-anchor="end" font-weight="normal" fill="#1a1a1a">-10</text><line x1="496.7" y1="308.4" x2="498.5" y2="308.4" stroke="#333"/><text x="494.6" y="312.3" font-size="11" text-anchor="end" font-weight="normal" fill="#1a1a1a">-20</text><line x1="496.7" y1="340.75" x2="498.5" y2="340.75" stroke="#333"/><text x="494.6" y="344.65" font-size="11" text-anchor="end" font-weight="normal" fill="#1a1a1a">-30</text><line x1="528.7" y1="341" x2="528.7" y2="342.6" stroke="#888"/><line x1="589.7" y1="341" x2="589.7" y2="342.6" stroke="#888"/><line x1="650.5" y1="341" x2="650.5" y2="342.6" stroke="#888"/><text x="0" y="0" font-size="11.4" text-anchor="middle" font-weight="normal" fill="#1a1a1a" transform="translate(473.8,259.9) rotate(-90)">Difference (Hz)</text><g transform="translate(528,362.1) rotate(24)"><text x="0" y="0" font-size="11.8" text-anchor="middle" font-weight="normal" fill="#1a1a1a">no effect</text></g><g transform="translate(525.9,374.2) rotate(24)"><text x="0" y="0" font-size="11.8" text-anchor="middle" font-weight="normal" fill="#1a1a1a">= 20</text></g><g transform="translate(588.5,364.9) rotate(24)"><text x="0" y="0" font-size="11.8" text-anchor="middle" font-weight="normal" fill="#1a1a1a">depression</text></g><g transform="translate(587.1,377) rotate(24)"><text x="0" y="0" font-size="11.8" text-anchor="middle" font-weight="normal" fill="#1a1a1a">= 19</text></g><g transform="translate(649.7,363.5) rotate(24)"><text x="0" y="0" font-size="11.8" text-anchor="middle" font-weight="normal" fill="#1a1a1a">excitation</text></g><g transform="translate(647.6,375.6) rotate(24)"><text x="0" y="0" font-size="11.8" text-anchor="middle" font-weight="normal" fill="#1a1a1a">= 9</text></g>
<text x="459.9" y="21" font-size="16.6" text-anchor="start" font-weight="bold" fill="#000">C</text>
<text transform="translate(489.1,35.7) scale(0.9,1)" x="0" y="0" font-size="9.85" fill="#2bb24f" stroke="#2bb24f" stroke-width="0.22">Channel 2</text><text transform="translate(592.8,35.7) scale(0.9,1)" x="0" y="0" font-size="9.85" fill="#3d78c9" stroke="#3d78c9" stroke-width="0.22">Channel 3</text><text transform="translate(489.5,67.4) scale(0.9,1)" x="0" y="0" font-size="9.85" fill="#ec2a2a" stroke="#ec2a2a" stroke-width="0.22">Channel 1</text><text transform="translate(596,67.4) scale(0.9,1)" x="0" y="0" font-size="9.85" fill="#f5b52a" stroke="#f5b52a" stroke-width="0.22">Channel 4</text><path d="M547.7,70 L547.6,58 C547.4,52.5 549.5,48.6 552.6,48.5 C555.7,48.6 558.3,52.5 558.4,58 L558.9,75" fill="none" stroke="#999" stroke-width="1.1" stroke-linecap="round" stroke-linejoin="round"/><path d="M560.3,76 L560.1,50 C560,44.5 562.3,40.6 565.6,40.5 C568.9,40.6 570.9,44.5 570.8,50 L570.4,75" fill="none" stroke="#999" stroke-width="1.1" stroke-linecap="round" stroke-linejoin="round"/><path d="M574.5,77 L574.6,56 C574.6,51.5 577,48.2 579.8,48.2 C582.6,48.3 585,51.5 585,56 L584.6,73" fill="none" stroke="#999" stroke-width="1.1" stroke-linecap="round" stroke-linejoin="round"/><path d="M583.8,78 L583.8,66 C583.7,62.5 585.6,59.8 588,59.8 C590.4,59.8 592.3,62.5 592.2,66 L591.8,72 C591.3,76 589.5,79 588.6,81" fill="none" stroke="#999" stroke-width="1.1" stroke-linecap="round" stroke-linejoin="round"/><path d="M549.2,55.2 C549.5,58.6 554.8,59.4 557.3,57.3" fill="none" stroke="#999" stroke-width="1.1" stroke-linecap="round" stroke-linejoin="round"/><path d="M549.2,59.2 C549.5,62.6 554.8,63.4 557.3,61.3" fill="none" stroke="#999" stroke-width="1.1" stroke-linecap="round" stroke-linejoin="round"/><path d="M549.2,63.6 C549.5,67 554.8,67.8 557.3,65.7" fill="none" stroke="#999" stroke-width="1.1" stroke-linecap="round" stroke-linejoin="round"/><path d="M549.2,68.1 C549.5,71.5 554.8,72.3 557.3,70.2" fill="none" stroke="#999" stroke-width="1.1" stroke-linecap="round" stroke-linejoin="round"/><path d="M549.2,71.9 C549.5,75.3 554.8,76.1 557.3,74" fill="none" stroke="#999" stroke-width="1.1" stroke-linecap="round" stroke-linejoin="round"/><path d="M561.6,54.1 C561.9,57.5 567.1,58.3 569.6,56.2" fill="none" stroke="#999" stroke-width="1.1" stroke-linecap="round" stroke-linejoin="round"/><path d="M561.6,58.6 C561.9,62 567.1,62.8 569.6,60.7" fill="none" stroke="#999" stroke-width="1.1" stroke-linecap="round" stroke-linejoin="round"/><path d="M561.6,62.9 C561.9,66.3 567.1,67.1 569.6,65" fill="none" stroke="#999" stroke-width="1.1" stroke-linecap="round" stroke-linejoin="round"/><path d="M561.6,67.2 C561.9,70.6 567.1,71.4 569.6,69.3" fill="none" stroke="#999" stroke-width="1.1" stroke-linecap="round" stroke-linejoin="round"/><path d="M561.6,71.1 C561.9,74.5 567.1,75.3 569.6,73.2" fill="none" stroke="#999" stroke-width="1.1" stroke-linecap="round" stroke-linejoin="round"/><path d="M576,58.1 C576.3,61.5 581.5,62.3 584,60.2" fill="none" stroke="#999" stroke-width="1.1" stroke-linecap="round" stroke-linejoin="round"/><path d="M576,62.1 C576.3,65.5 581.5,66.3 584,64.2" fill="none" stroke="#999" stroke-width="1.1" stroke-linecap="round" stroke-linejoin="round"/><path d="M576,66.4 C576.3,69.8 581.5,70.6 584,68.5" fill="none" stroke="#999" stroke-width="1.1" stroke-linecap="round" stroke-linejoin="round"/><path d="M576,70.6 C576.3,74 581.5,74.8 584,72.7" fill="none" stroke="#999" stroke-width="1.1" stroke-linecap="round" stroke-linejoin="round"/><path d="M585,62.1 C585.3,65.5 588.5,66.3 591,64.2" fill="none" stroke="#999" stroke-width="1.1" stroke-linecap="round" stroke-linejoin="round"/><path d="M585,66.4 C585.3,69.8 588.5,70.6 591,68.5" fill="none" stroke="#999" stroke-width="1.1" stroke-linecap="round" stroke-linejoin="round"/><path d="M585,70.8 C585.3,74.2 588.5,75 591,72.9" fill="none" stroke="#999" stroke-width="1.1" stroke-linecap="round" stroke-linejoin="round"/><path d="M585,75 C585.3,78.4 588.5,79.2 591,77.1" fill="none" stroke="#999" stroke-width="1.1" stroke-linecap="round" stroke-linejoin="round"/><path d="M547.7,70 C548,76 549.8,80 549.6,84 C547.2,84.3 545.6,86.3 545.7,88.5 C545.9,90.8 547.5,92.3 549.2,92 C548.6,93 548.3,93.5 548.5,95 C549.3,101 550.8,107 553.8,114.5 C555.2,118.3 557.2,120.8 557.2,124.5 L557.2,141.7" fill="none" stroke="#999" stroke-width="1.1" stroke-linecap="round" stroke-linejoin="round"/><path d="M588.6,81 C587,86 586,93 585.6,100 C585.2,107 584.3,113 582,118 C579.5,121.6 575.5,123.4 572,123.2 C570.2,123.1 569,122.8 568,122.3" fill="none" stroke="#999" stroke-width="1.1" stroke-linecap="round" stroke-linejoin="round"/><path d="M582,118 C584.5,125 587,133 588.7,141.7" fill="none" stroke="#999" stroke-width="1.1" stroke-linecap="round" stroke-linejoin="round"/><path d="M561.5,82.2 L564.3,93.4 C561,93.8 558,93.5 556.3,92 C554.5,90.5 554.2,87.5 554.6,85.5 C555.2,82.5 557,81 558.6,81 C560,81 561,81.5 561.5,82.2 Z" fill="none" stroke="#999" stroke-width="1.1" stroke-linecap="round" stroke-linejoin="round"/><path d="M562.4,81.5 C562.5,79.5 564.5,78.5 566.9,78.5 C569.5,78.5 571.5,79.5 571.6,82 L568.2,93.2 C567.8,93.6 567.4,93.5 567.2,93 Z" fill="none" stroke="#999" stroke-width="1.1" stroke-linecap="round" stroke-linejoin="round"/><path d="M572.6,83.5 C573.2,82 574.2,81.3 575.4,81.3 C577.8,81.5 579.6,84.5 579.6,87.5 C579.6,91 577,94.2 573.8,94.8 C572.6,95 571.6,94.5 571.5,93.5 C571.3,90 571.8,86 572.6,83.5 Z" fill="none" stroke="#999" stroke-width="1.1" stroke-linecap="round" stroke-linejoin="round"/><path d="M553.2,99.5 C552.6,103.5 555.5,109 558.8,112.5 C561.2,115 563.7,116.5 564.7,115.6 C565.3,114.4 562.7,110.8 561.2,108.8 C560.7,107.8 561.6,107.2 563.3,106.8 C565,106.2 565.3,104.3 564.4,102.6 C562.5,99.5 558.3,97 555.6,97.2 C554.2,97.4 553.4,98.3 553.2,99.5 Z" fill="none" stroke="#999" stroke-width="1.1" stroke-linecap="round" stroke-linejoin="round"/><path d="M576.5,96.4 C573.5,96.8 570.3,101.5 569.2,106.5 C568.3,111 569.3,115.5 571.4,115.9 C574.5,116.3 578.3,110.5 579.4,104.8 C580.2,100 579.2,96.1 576.5,96.4 Z" fill="none" stroke="#999" stroke-width="1.1" stroke-linecap="round" stroke-linejoin="round"/><path d="M551.6,48.6 L552.5,43.2 L553.2,48.6 Z" fill="#999"/><path d="M565,40.6 L566.1,35.2 L566.6,40.6 Z" fill="#999"/><path d="M579.8,48.3 L581.3,43.5 L581.4,48.3 Z" fill="#999"/><path d="M588.6,59.9 L590.6,56.6 L590.2,59.9 Z" fill="#999"/><linearGradient id="eg1" gradientUnits="userSpaceOnUse" x1="509" y1="38" x2="548.8" y2="53.2"><stop offset="0" stop-color="#1fa845"/><stop offset="0.6" stop-color="#1fa845"/><stop offset="1" stop-color="#1fa845" stop-opacity="0.3"/></linearGradient><path d="M508.66,38.89 L548.69,53.48 L548.91,52.92 L509.34,37.11 Z" fill="url(#eg1)"/><linearGradient id="eg2" gradientUnits="userSpaceOnUse" x1="507.4" y1="42.3" x2="548.8" y2="54.4"><stop offset="0" stop-color="#1fa845"/><stop offset="0.6" stop-color="#1fa845"/><stop offset="1" stop-color="#1fa845" stop-opacity="0.3"/></linearGradient><path d="M507.13,43.21 L548.72,54.69 L548.88,54.11 L507.67,41.39 Z" fill="url(#eg2)"/><linearGradient id="eg3" gradientUnits="userSpaceOnUse" x1="507.4" y1="53.3" x2="548.8" y2="58.8"><stop offset="0" stop-color="#ee2222"/><stop offset="0.6" stop-color="#ee2222"/><stop offset="1" stop-color="#ee2222" stop-opacity="0.3"/></linearGradient><path d="M507.27,54.24 L548.76,59.1 L548.84,58.5 L507.53,52.36 Z" fill="url(#eg3)"/><linearGradient id="eg4" gradientUnits="userSpaceOnUse" x1="506.4" y1="57.2" x2="548.8" y2="60.6"><stop offset="0" stop-color="#ee2222"/><stop offset="0.6" stop-color="#ee2222"/><stop offset="1" stop-color="#ee2222" stop-opacity="0.3"/></linearGradient><path d="M506.32,58.15 L548.78,60.9 L548.82,60.3 L506.48,56.25 Z" fill="url(#eg4)"/><linearGradient id="eg5" gradientUnits="userSpaceOnUse" x1="600.5" y1="38.9" x2="558.5" y2="53.8"><stop offset="0" stop-color="#3560c0"/><stop offset="0.6" stop-color="#3560c0"/><stop offset="1" stop-color="#3560c0" stop-opacity="0.3"/></linearGradient><path d="M600.18,38 L558.4,53.52 L558.6,54.08 L600.82,39.8 Z" fill="url(#eg5)"/><linearGradient id="eg6" gradientUnits="userSpaceOnUse" x1="601.2" y1="43.6" x2="559.8" y2="55"><stop offset="0" stop-color="#3560c0"/><stop offset="0.6" stop-color="#3560c0"/><stop offset="1" stop-color="#3560c0" stop-opacity="0.3"/></linearGradient><path d="M600.95,42.68 L559.72,54.71 L559.88,55.29 L601.45,44.52 Z" fill="url(#eg6)"/><linearGradient id="eg7" gradientUnits="userSpaceOnUse" x1="601.6" y1="52.7" x2="557.7" y2="60.4"><stop offset="0" stop-color="#f7b500"/><stop offset="0.6" stop-color="#f7b500"/><stop offset="1" stop-color="#f7b500" stop-opacity="0.3"/></linearGradient><path d="M601.44,51.76 L557.65,60.1 L557.75,60.7 L601.76,53.64 Z" fill="url(#eg7)"/><linearGradient id="eg8" gradientUnits="userSpaceOnUse" x1="602.6" y1="56.5" x2="557.7" y2="61.4"><stop offset="0" stop-color="#f7b500"/><stop offset="0.6" stop-color="#f7b500"/><stop offset="1" stop-color="#f7b500" stop-opacity="0.3"/></linearGradient><path d="M602.5,55.56 L557.67,61.1 L557.73,61.7 L602.7,57.44 Z" fill="url(#eg8)"/>
</svg>
</body></html>
